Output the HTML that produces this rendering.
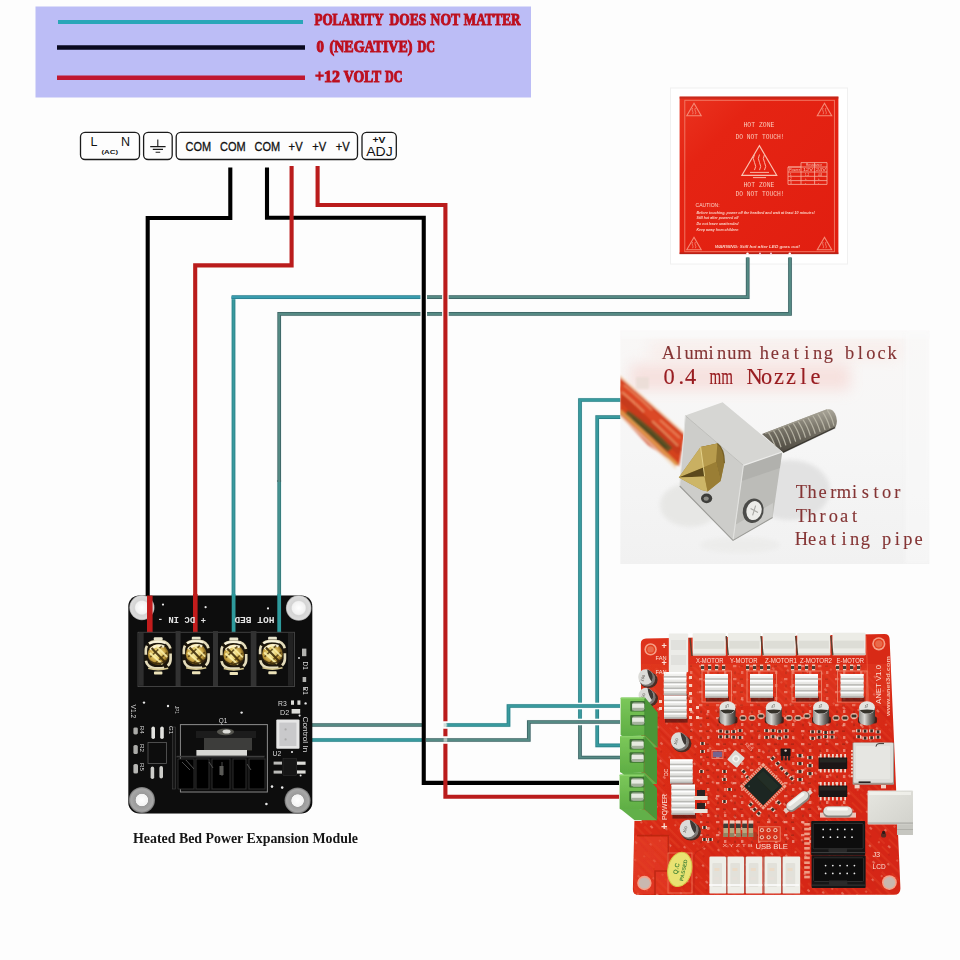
<!DOCTYPE html>
<html lang="en">
<head>
<meta charset="utf-8">
<title>Heated Bed Power Expansion Module wiring</title>
<style>
html,body{margin:0;padding:0;background:#fdfdfd;}
body{width:960px;height:960px;overflow:hidden;}
svg{display:block;}
.sans{font-family:"Liberation Sans",sans-serif;}
.serif{font-family:"Liberation Serif",serif;}
.mono{font-family:"Liberation Mono",monospace;}
</style>
</head>
<body>
<svg width="960" height="960" viewBox="0 0 960 960">
<rect width="960" height="960" fill="#fdfdfd"/>

<g id="bg">
<rect x="670.5" y="88" width="177" height="176" fill="#ffffff" stroke="#f0f0f0" stroke-width="1"/>
</g>
<!-- LEGEND -->
<g id="legend">
<defs><filter id="softL" x="-5%" y="-20%" width="110%" height="140%"><feGaussianBlur stdDeviation="0.35"/></filter></defs>
<rect x="35.5" y="6.5" width="495.5" height="91" fill="#bcbdf6"/>
<path d="M58 22H303" stroke="#2aa6b8" stroke-width="4.2" fill="none"/>
<path d="M57 47.5H305" stroke="#0a0a1e" stroke-width="4.4" fill="none"/>
<path d="M57 77.8H305" stroke="#c01830" stroke-width="4.6" fill="none"/>
<g class="serif" font-weight="bold" fill="#bd1220" stroke="#bd1220" stroke-width="1" font-size="16.2" filter="url(#softL)">
<text y="25"><tspan x="314.4" textLength="69" lengthAdjust="spacingAndGlyphs">POLARITY</tspan><tspan x="389.6" textLength="36.6" lengthAdjust="spacingAndGlyphs">DOES</tspan><tspan x="430.6" textLength="29.4" lengthAdjust="spacingAndGlyphs">NOT</tspan><tspan x="463.8" textLength="56.6" lengthAdjust="spacingAndGlyphs">MATTER</tspan></text>
<text y="52"><tspan x="316.4" textLength="7.4" lengthAdjust="spacingAndGlyphs">0</tspan><tspan x="329.6" textLength="82.8" lengthAdjust="spacingAndGlyphs">(NEGATIVE)</tspan><tspan x="417.6" textLength="17.4" lengthAdjust="spacingAndGlyphs">DC</tspan></text>
<text y="82"><tspan x="315" textLength="25" lengthAdjust="spacingAndGlyphs">+12</tspan><tspan x="343.8" textLength="37.4" lengthAdjust="spacingAndGlyphs">VOLT</tspan><tspan x="385" textLength="17.4" lengthAdjust="spacingAndGlyphs">DC</tspan></text>
</g>
</g>

<!-- PSU TERMINALS -->
<g id="psu" fill="#fdfdfd" stroke="#1a1a1a" stroke-width="1.3">
<rect x="80.5" y="132.3" width="59" height="27.2" rx="4.5"/>
<rect x="143.6" y="132.3" width="28.6" height="27.2" rx="4.5"/>
<rect x="176.2" y="132.3" width="181.3" height="27.2" rx="4.5"/>
<rect x="362" y="132.3" width="34.3" height="27.2" rx="4.5"/>
<path d="M157.8 139.5V146.6M150.2 146.6H165.6M152.8 149.4H163M155.6 152.2H160.2" fill="none" stroke-width="1.1"/>
</g>
<g class="sans" fill="#111" font-size="13.2" stroke="#111" stroke-width="0.3">
<text x="185.5" y="150.6" textLength="25.6" lengthAdjust="spacingAndGlyphs">COM</text>
<text x="220" y="150.6" textLength="25.6" lengthAdjust="spacingAndGlyphs">COM</text>
<text x="254.5" y="150.6" textLength="25.6" lengthAdjust="spacingAndGlyphs">COM</text>
<text x="288.6" y="150.6" textLength="14" lengthAdjust="spacingAndGlyphs">+V</text>
<text x="312.2" y="150.6" textLength="14" lengthAdjust="spacingAndGlyphs">+V</text>
<text x="335.8" y="150.6" textLength="14" lengthAdjust="spacingAndGlyphs">+V</text>
</g>
<g class="sans" fill="#111">
<text x="90.5" y="146.2" font-size="12.5">L</text>
<text x="121" y="146.2" font-size="12.5">N</text>
<text x="101.5" y="153.8" font-size="5.6" font-weight="bold" textLength="16.5" lengthAdjust="spacingAndGlyphs">(AC)</text>
<text x="372.5" y="143" font-size="8.2" font-weight="bold" textLength="13" lengthAdjust="spacingAndGlyphs">+V</text>
<text x="366.2" y="155.6" font-size="12.2" textLength="26.5" lengthAdjust="spacingAndGlyphs">ADJ</text>
</g>

<!-- WIRES -->
<g id="wires" fill="none" stroke-linejoin="miter" stroke-linecap="butt" filter="url(#softW)">
<defs><filter id="softW" x="-2%" y="-2%" width="104%" height="104%"><feGaussianBlur stdDeviation="0.4"/></filter></defs>
<path d="M621 400H580V726" stroke="#b4f2f4" stroke-width="5" opacity="0.22"/>
<path d="M621 400H580V726" stroke="#2a7a80" stroke-width="3.7"/>
<path d="M621 400H580V726" stroke="#379a9e" stroke-width="2.3"/>
<path d="M580 724V757.5H620" stroke="#d8f2f0" stroke-width="5" opacity="0.18"/>
<path d="M580 724V757.5H620" stroke="#3a5f62" stroke-width="3.7"/>
<path d="M580 724V757.5H620" stroke="#548a84" stroke-width="2.2"/>
<path d="M621 417.2H597.2V745.4H620" stroke="#b4f2f4" stroke-width="5" opacity="0.22"/>
<path d="M621 417.2H597.2V745.4H620" stroke="#2a7a80" stroke-width="3.7"/>
<path d="M621 417.2H597.2V745.4H620" stroke="#379a9e" stroke-width="2.3"/>
<path d="M233.5 634V297.2" stroke="#b4f2f4" stroke-width="5" opacity="0.22"/>
<path d="M233.5 634V297.2" stroke="#2a7a80" stroke-width="3.7"/>
<path d="M233.5 634V297.2" stroke="#379a9e" stroke-width="2.3"/>
<path d="M231.6 297.2H421" stroke="#b4f2f4" stroke-width="5" opacity="0.22"/>
<path d="M231.6 297.2H421" stroke="#2d7c8c" stroke-width="3.7"/>
<path d="M231.6 297.2H421" stroke="#389cae" stroke-width="2.3"/>
<path d="M426 297.2H747.7V257.4" stroke="#d8f2f0" stroke-width="5" opacity="0.18"/>
<path d="M426 297.2H747.7V257.4" stroke="#3a5f62" stroke-width="3.7"/>
<path d="M426 297.2H747.7V257.4" stroke="#548a84" stroke-width="2.2"/>
<path d="M279.2 634V480" stroke="#c8f4f4" stroke-width="5" opacity="0.2"/>
<path d="M279.2 634V480" stroke="#327376" stroke-width="3.7"/>
<path d="M279.2 634V480" stroke="#449290" stroke-width="2.3"/>
<path d="M279.2 482V313.9H790V257.4" stroke="#d8f2f0" stroke-width="5" opacity="0.18"/>
<path d="M279.2 482V313.9H790V257.4" stroke="#3a5f62" stroke-width="3.7"/>
<path d="M279.2 482V313.9H790V257.4" stroke="#548a84" stroke-width="2.2"/>
<path d="M576 706H601" stroke="#fdfdfd" stroke-width="6.6"/>
<path d="M576 722H601" stroke="#fdfdfd" stroke-width="6.6"/>
<path d="M310 725H424" stroke="#d8f2f0" stroke-width="5" opacity="0.18"/>
<path d="M310 725H424" stroke="#3a5f62" stroke-width="3.7"/>
<path d="M310 725H424" stroke="#548a84" stroke-width="2.2"/>
<path d="M446 725H508.5V706H620" stroke="#b4f2f4" stroke-width="5" opacity="0.22"/>
<path d="M446 725H508.5V706H620" stroke="#2a7a80" stroke-width="3.7"/>
<path d="M446 725H508.5V706H620" stroke="#379a9e" stroke-width="2.3"/>
<path d="M310 740H424" stroke="#b4f2f4" stroke-width="5" opacity="0.22"/>
<path d="M310 740H424" stroke="#2a7a80" stroke-width="3.7"/>
<path d="M310 740H424" stroke="#379a9e" stroke-width="2.3"/>
<path d="M426 740H528.8V722H620" stroke="#d8f2f0" stroke-width="5" opacity="0.18"/>
<path d="M426 740H528.8V722H620" stroke="#3a5f62" stroke-width="3.7"/>
<path d="M426 740H528.8V722H620" stroke="#548a84" stroke-width="2.2"/>
<path d="M230.3 167.6V218H147.7V598" stroke="#050505" stroke-width="4.1"/>
<path d="M423.75 292.5V319" stroke="#fdfdfd" stroke-width="6.6"/>
<path d="M267 167.6V217.7H423.75V782.9H619" stroke="#050505" stroke-width="4.1"/>
<path d="M291.6 166V265.4H195.2V600" stroke="#ba1e1b" stroke-width="4.1"/>
<path d="M445.4 292.5V319" stroke="#fdfdfd" stroke-width="6.6"/>
<path d="M317.6 166V205H445.4V721.2M445.4 728.8V736.2M445.4 743.8V796.8H619" stroke="#ba1e1b" stroke-width="4.1"/>
<rect x="443.6" y="723.2" width="3.6" height="3.6" fill="#c8d8d4" opacity="0.8"/>
<rect x="443.6" y="738.2" width="3.6" height="3.6" fill="#c8d8d4" opacity="0.8"/>
</g>
<!-- CAPTION -->
<text class="serif" x="133" y="842.6" font-size="15.4" font-weight="bold" fill="#161616" textLength="225" lengthAdjust="spacingAndGlyphs">Heated Bed Power Expansion Module</text>

<g id="hotbed">
<defs>
<linearGradient id="bedG" x1="0" y1="0" x2="1" y2="1"><stop offset="0" stop-color="#ea3420"/><stop offset="0.25" stop-color="#e52413"/><stop offset="1" stop-color="#e11e10"/></linearGradient>
<symbol id="warnTri" viewBox="0 0 16 14" overflow="visible">
<path d="M8 0.8L15.2 13.2H0.8Z" fill="none" stroke="#f58a76" stroke-width="1.1"/>
<path d="M6.6 5.5q-1 1.6 0 3.2t0 3M9.4 5.5q-1 1.6 0 3.2t0 3" fill="none" stroke="#f28a78" stroke-width="0.8"/>
</symbol>
<filter id="soft" x="-5%" y="-5%" width="110%" height="110%"><feGaussianBlur stdDeviation="0.45"/></filter>
<filter id="soft2" x="-5%" y="-5%" width="110%" height="110%"><feGaussianBlur stdDeviation="0.8"/></filter>
<filter id="soft3" x="-10%" y="-10%" width="120%" height="120%"><feGaussianBlur stdDeviation="2"/></filter>
</defs>
<rect x="679.6" y="96.6" width="158.8" height="157.4" fill="url(#bedG)"/>
<rect x="679.6" y="96.6" width="158.8" height="2" fill="#b8281c" opacity="0.7"/>
<rect x="679.6" y="252.4" width="158.8" height="1.8" fill="#a8221a" opacity="0.7"/>
<rect x="684.8" y="100.3" width="149.6" height="151.4" fill="none" stroke="#f27c68" stroke-width="0.9"/>
<use href="#warnTri" x="686" y="102.5" width="16" height="14"/>
<use href="#warnTri" x="816.5" y="102.5" width="16" height="14"/>
<use href="#warnTri" x="686" y="236.5" width="16" height="14"/>
<use href="#warnTri" x="816.5" y="236.5" width="16" height="14"/>
<g class="mono" fill="#fac8b8" font-size="6.6" text-anchor="middle" filter="url(#soft)">
<text x="759" y="126.6" textLength="31" lengthAdjust="spacingAndGlyphs">HOT ZONE</text>
<text x="760" y="139" textLength="49" lengthAdjust="spacingAndGlyphs">DO NOT TOUCH!</text>
<text x="759" y="187.4" textLength="31" lengthAdjust="spacingAndGlyphs">HOT ZONE</text>
<text x="760" y="196.4" textLength="49" lengthAdjust="spacingAndGlyphs">DO NOT TOUCH!</text>
</g>
<g filter="url(#soft)">
<path d="M759.4 145.6L776.8 175.4H741.8Z" fill="none" stroke="#fac0b0" stroke-width="1.1"/>
<path d="M754.5 154.5q-2.4 4 0 8t0 7.6M759.5 154.5q-2.4 4 0 8t0 7.6M764.5 154.5q-2.4 4 0 8t0 7.6" fill="none" stroke="#f8b4a4" stroke-width="1"/>
<path d="M750 172.4H769M753 177.6H766" fill="none" stroke="#f8b4a4" stroke-width="1"/>
</g>
<g fill="none" stroke="#f8b0a0" stroke-width="0.8" filter="url(#soft)">
<path d="M801 162.6H827V184.4H788V167H801ZM788 167H827M788 172H827M788 176.3H827M788 180.6H827M801 167V184.4M814.6 162.6V184.4"/>
</g>
<g class="sans" fill="#f8c4b6" font-size="3" filter="url(#soft)">
<text x="806" y="166.2" textLength="16" lengthAdjust="spacingAndGlyphs">Resistance</text>
<text x="789" y="171.2" textLength="11" lengthAdjust="spacingAndGlyphs">Power</text>
<text x="803" y="171.2" textLength="10" lengthAdjust="spacingAndGlyphs">12V</text>
<text x="816" y="171.2" textLength="10" lengthAdjust="spacingAndGlyphs">24V</text>
<text x="790" y="175.6">1</text><text x="805" y="175.6">1.2</text><text x="818" y="175.6">4.8</text>
<text x="790" y="180">2</text><text x="805" y="180">+</text><text x="818" y="180">+</text>
<text x="790" y="184">3</text><text x="805" y="184">-</text><text x="818" y="184">-</text>
</g>
<g class="sans" fill="#fbd0c4" filter="url(#soft)">
<text x="695.6" y="207.4" font-size="5.6" textLength="24" lengthAdjust="spacingAndGlyphs">CAUTION:</text>
<g font-size="3.6" font-style="italic" font-weight="bold">
<text x="696.4" y="213.6" textLength="118.5" lengthAdjust="spacingAndGlyphs">Before touching, power off the heatbed and wait at least 10 minutes!</text>
<text x="696.4" y="219.4" textLength="42" lengthAdjust="spacingAndGlyphs">Still hot after powered off</text>
<text x="696.4" y="225.2" textLength="42" lengthAdjust="spacingAndGlyphs">Do not leave unattended</text>
<text x="696.4" y="231" textLength="42" lengthAdjust="spacingAndGlyphs">Keep away from children</text>
<text x="715" y="248.2" font-size="4.2" textLength="85" lengthAdjust="spacingAndGlyphs">WARNING: Still hot after LED goes out!</text>
</g>
</g>
<path d="M742 251.6H756M762 251.6H766M772 251.6H786M788 251.6H792" stroke="#f0a090" stroke-width="1.4" fill="none" filter="url(#soft)"/>
<circle cx="747.5" cy="253.6" r="1.2" fill="#fff"/><circle cx="789.8" cy="253.6" r="1.2" fill="#fff"/><circle cx="760" cy="253.4" r="0.9" fill="#fde"/><circle cx="771" cy="253.4" r="0.9" fill="#fde"/>
</g>
<g id="hotend">
<defs>
<linearGradient id="heBg" x1="0" y1="0" x2="0" y2="1">
<stop offset="0" stop-color="#f9f7f6"/><stop offset="0.5" stop-color="#f6f6f6"/><stop offset="1" stop-color="#f1f1f1"/>
</linearGradient>
<linearGradient id="cableG" x1="0" y1="0" x2="1" y2="0" gradientTransform="rotate(-48 .5 .5)">
<stop offset="0" stop-color="#e8a050"/><stop offset="0.25" stop-color="#d2481c"/><stop offset="0.5" stop-color="#8a5a24"/><stop offset="0.75" stop-color="#cf3d18"/><stop offset="1" stop-color="#f0b070"/>
</linearGradient>
<linearGradient id="rodG" x1="0" y1="0" x2="0" y2="1">
<stop offset="0" stop-color="#aaa69a"/><stop offset="0.4" stop-color="#7c786c"/><stop offset="1" stop-color="#4c483f"/>
</linearGradient>
<linearGradient id="brassG" x1="0" y1="0" x2="1" y2="1">
<stop offset="0" stop-color="#d9c070"/><stop offset="0.5" stop-color="#b08c34"/><stop offset="1" stop-color="#6e5418"/>
</linearGradient>
<filter id="soft8" x="-20%" y="-60%" width="140%" height="220%"><feGaussianBlur stdDeviation="7"/></filter>
<clipPath id="heClip"><rect x="620.3" y="330.5" width="309" height="233.5"/></clipPath>
</defs>
<rect x="620.3" y="330.5" width="309" height="233.5" fill="url(#heBg)"/>
<g clip-path="url(#heClip)">
<!-- pink halo behind title -->
<rect x="630" y="364" width="220" height="26" fill="#f6d8d4" opacity="0.7" filter="url(#soft8)"/>
<rect x="650" y="342" width="250" height="18" fill="#f8e6e2" opacity="0.55" filter="url(#soft8)"/>
<rect x="620" y="330" width="310" height="8" fill="#fbfbfb" opacity="0.7" filter="url(#soft2)"/>
<rect x="905" y="330" width="25" height="234" fill="#f9f9f9" opacity="0.6" filter="url(#soft3)"/>
<!-- shadows -->
<ellipse cx="790" cy="490" rx="40" ry="30" fill="#dedede" opacity="0.8" filter="url(#soft3)"/>
<ellipse cx="740" cy="545" rx="40" ry="8" fill="#e9e9e7" opacity="0.6" filter="url(#soft3)"/>
<ellipse cx="690" cy="505" rx="30" ry="22" fill="#e6e6e4" opacity="0.9" filter="url(#soft3)"/>
<!-- cable -->
<rect x="636" y="377" width="13" height="12" fill="#eaddd6" opacity="0.8" filter="url(#soft2)"/>
<g filter="url(#soft2)">
<path d="M619.6 375.6L684.6 433.4L679 466L648 445L619.6 415Z" fill="#d4421e"/>
<path d="M619.6 386L682 442" stroke="#dc4826" stroke-width="9" fill="none"/>
<path d="M621 398L680 452" stroke="#c63a1a" stroke-width="7" fill="none"/>
<path d="M626 413Q648 428 670 450" stroke="#5c5224" stroke-width="6.4" fill="none" opacity="0.92"/>
<path d="M632 418.6Q650 432 666 448" stroke="#3e4a22" stroke-width="2.6" fill="none" opacity="0.8"/>
<path d="M620 411Q646 434 677 465" stroke="#e09a4c" stroke-width="3.6" fill="none" opacity="0.95"/>
<path d="M620 415.4Q646 439 676 468.6" stroke="#f3dcc0" stroke-width="2" fill="none" opacity="0.8"/>
<path d="M619.6 376L684.6 433.6" stroke="#f4d8b8" stroke-width="1.8" fill="none" opacity="0.95"/>
<path d="M624 385Q640 398 652 410M660 420Q670 429 680 438" stroke="#f0a070" stroke-width="1.6" fill="none" opacity="0.8"/>
<path d="M622 392Q634 402 644 412M652 421Q664 432 678 446" stroke="#f6c890" stroke-width="1.2" fill="none" opacity="0.7"/>
</g>
<!-- threaded rod -->
<g filter="url(#soft)">
<path d="M762 434L826.5 409.6Q832 407.8 835 413.5Q838.6 421 835.4 427.4L783 452.6Z" fill="url(#rodG)"/>
<g stroke="#bdb9aa" stroke-width="1.25" fill="none" opacity="0.9">
<path d="M768.5 432.6q4.6 6.4 7.6 16.6M773.4 430.7q4.6 6.4 7.6 16.6M778.3 428.8q4.6 6.4 7.6 16.6M783.2 426.9q4.6 6.4 7.6 16.6M788.1 425q4.6 6.4 7.6 16.6M793 423.1q4.6 6.4 7.6 16.4M797.9 421.2q4.6 6.4 7.6 16.4M802.8 419.3q4.6 6.4 7.6 16.4M807.7 417.4q4.6 6.4 7.6 16.4M812.6 415.5q4.6 6.4 7.6 16.4M817.5 413.6q4.6 6.4 7.6 16.4M822.4 411.7q4.6 6.4 7.6 16.4M827.3 410.2q4.6 6.4 6.6 15.4"/>
</g>
<path d="M765 433.6L827 410" stroke="#a09c8e" stroke-width="1.4" fill="none" opacity="0.8"/>
<path d="M783 452.4L835 427.6" stroke="#2a2822" stroke-width="1.6" fill="none" opacity="0.8"/>
</g>
<!-- block -->
<g filter="url(#soft)">
<path d="M685.3 415.6L722.6 402.2L782.2 452L743.4 465.4Z" fill="#d6d6d3"/>
<path d="M685.3 415.6L743.4 465.4L733 540.4L679.7 486Z" fill="#cdcdca"/>
<path d="M743.4 465.4L782.2 452L772.6 517.6L733 540.4Z" fill="#bcbcb8"/>
<path d="M743.4 465.4L782.2 452L780 468L741.6 481Z" fill="#a8a8a4" opacity="0.55"/>
<path d="M735 525L773 503L772.6 517.6L733 540.4Z" fill="#d2d2ce" opacity="0.7"/>
<path d="M685.3 415.6L743.4 465.4" fill="none" stroke="#b4b4b0" stroke-width="0.9" opacity="0.8"/>
<path d="M743.4 465.4L782.2 452" fill="none" stroke="#ececea" stroke-width="1.3"/>
<path d="M743.4 465.4L733 540.4" fill="none" stroke="#e2e2e0" stroke-width="1.1"/>
<path d="M679.7 486L733 540.4L772.6 517.6" fill="none" stroke="#9c9c98" stroke-width="1.1"/>
<path d="M685.3 415.6L679.7 486" fill="none" stroke="#e4e4e2" stroke-width="1"/>
<!-- round screw -->
<ellipse cx="753.2" cy="510.8" rx="10.4" ry="12.4" fill="#4c4c48" transform="rotate(14 753.2 510.8)"/>
<ellipse cx="754" cy="510.6" rx="7.6" ry="9.6" fill="#ecece9" transform="rotate(14 754 510.6)"/>
<path d="M750.6 508.4L758 512.6M755.6 505.6L752.6 515.4" stroke="#a8a8a4" stroke-width="1.1" fill="none"/>
<!-- set screw -->
<ellipse cx="706.6" cy="498.4" rx="5.6" ry="4.8" fill="#3e3e3a"/>
<ellipse cx="706.2" cy="498.6" rx="2.6" ry="2.2" fill="#8c8c86"/>
<!-- nozzle -->
<path d="M678.8 477.6L700.6 447L717.4 443.6Q724.6 449 724.4 463L720.6 481L707.6 491.6L701.6 490Z" fill="#a88a3a"/>
<path d="M700.6 447L717.4 443.6Q724.6 449 724.4 463L720.6 481L716 462Z" fill="#8f7430"/>
<path d="M700.6 447L717.4 443.6L716 462L703.4 467.4Z" fill="#b89c4e"/>
<path d="M678.8 477.6L700.6 447L703.4 467.4Z" fill="#c9b062"/>
<path d="M678.8 477.6L703.4 467.4L704.6 476.4Z" fill="#5c4a1a"/>
<path d="M678.8 477.6L704.6 476.4L707.6 491.6L701.6 490Z" fill="#cdb668"/>
<path d="M703.4 467.4L716 462L720.6 481L707.6 491.6L704.6 476.4Z" fill="#9a7e34"/>
<path d="M700.6 447L703.4 467.4L704.6 476.4" stroke="#e8d690" stroke-width="1" fill="none" opacity="0.9"/>
<path d="M717.4 443.6Q724.6 449 724.4 463" stroke="#6a5620" stroke-width="1.2" fill="none" opacity="0.8"/>
</g>
<!-- text -->
<g class="serif" fill="#843434" stroke="#843434" stroke-width="0.12" text-anchor="middle" filter="url(#soft)">
<text y="358.6" font-size="18.4" x="668.33 678.99 689.05 701.11 710.97 721.63 731.89 744.35 753.61 764.27 774.93 785.59 796.25 806.91 817.57 828.23 838.89 849.55 860.21 870.87 881.53 892.19">Aluminum heating block</text>
<text y="384.0" font-size="22.4" fill="#981c20" stroke="#981c20" stroke-width="0.15"><tspan x="669.10 681.30 693.50">0.4</tspan> <tspan x="724.00" textLength="23.4" lengthAdjust="spacingAndGlyphs">mm</tspan> <tspan x="754.50 766.70 778.90 791.10 803.30 815.50">Nozzle</tspan></text>
<text y="497.8" font-size="18.4" x="801.33 811.99 822.65 833.31 843.97 854.63 865.29 875.95 886.61 897.27">Thermistor</text>
<text y="521.6" font-size="18.4" x="801.33 811.99 822.65 833.31 843.97 854.63">Throat</text>
<text y="545.4" font-size="18.4" x="801.33 811.99 822.65 833.31 843.97 854.63 865.29 875.95 886.61 897.27 907.93 918.59">Heating pipe</text>
</g>
</g>
</g>
<g id="mosfet">
<defs>
<radialGradient id="holeG" cx="0.5" cy="0.5" r="0.5">
<stop offset="0" stop-color="#ffffff"/><stop offset="0.45" stop-color="#f4f4f4"/><stop offset="0.5" stop-color="#9a9a9a"/><stop offset="0.85" stop-color="#a8a8a8"/><stop offset="1" stop-color="#6e6e6e"/>
</radialGradient>
<radialGradient id="holeG2" cx="0.5" cy="0.5" r="0.5">
<stop offset="0" stop-color="#ffffff"/><stop offset="0.5" stop-color="#f2f2f2"/><stop offset="0.6" stop-color="#d4d4d4"/><stop offset="0.9" stop-color="#dcdcdc"/><stop offset="1" stop-color="#9a9a9a"/>
</radialGradient>
<radialGradient id="screwG" cx="0.45" cy="0.45" r="0.55">
<stop offset="0" stop-color="#fff8c8"/><stop offset="0.35" stop-color="#ecd679"/><stop offset="0.72" stop-color="#c29c3e"/><stop offset="1" stop-color="#644c18"/>
</radialGradient>
<symbol id="tscrew" viewBox="-16 -18 32 40" overflow="visible">
<rect x="-4.4" y="-17.4" width="8.8" height="5" rx="1" fill="#e8e4cc"/>
<rect x="-13.8" y="-14.6" width="27.6" height="29.6" rx="10" fill="#1e180a"/>
<rect x="-12.4" y="-13.2" width="24.8" height="26.8" rx="9" fill="none" stroke="#e4dcbc" stroke-width="2.6" stroke-dasharray="19 5 13 4 22 6 9 3"/>
<path d="M-9 -11Q-2 -14.6 7 -11.6" stroke="#fbf6e0" stroke-width="2" fill="none" opacity="0.9"/>
<circle r="10.4" fill="url(#screwG)"/>
<path d="M-8 -5Q-2 -11 6 -8" stroke="#fffbe0" stroke-width="2.6" fill="none" opacity="0.9"/>
<path d="M-6.6 -6.6L7 7.6" stroke="#3e2c08" stroke-width="2.2" fill="none" opacity="0.9"/>
<path d="M-8 2.6L3.6 -8.6" stroke="#4a360c" stroke-width="1.6" fill="none" opacity="0.8"/>
<path d="M-2.6 8.6L8.6 -2" stroke="#4a360c" stroke-width="1.6" fill="none" opacity="0.75"/>
<path d="M-8.4 -1.6L4.4 9.6" stroke="#fbf0a8" stroke-width="2" fill="none" opacity="0.9"/>
<path d="M-2 -8.6L9 2.4" stroke="#fbf0a8" stroke-width="1.8" fill="none" opacity="0.85"/>
<path d="M-9 6Q0 12.6 9 5.4" stroke="#33240a" stroke-width="1.5" fill="none" opacity="0.8"/>
<path d="M-10 13.6Q0 16.4 10 13.6" stroke="#d6c890" stroke-width="1.6" fill="none"/>
<rect x="-4.2" y="17" width="8.4" height="3" rx="0.8" fill="#ece2b8"/>
</symbol>
</defs>
<g filter="url(#soft)">
<rect x="128.3" y="595.4" width="184" height="218" rx="11" fill="#0a0a0a"/>
<!-- mounting holes -->
<circle cx="141.9" cy="607.6" r="12.6" fill="url(#holeG2)"/>
<circle cx="298.7" cy="608" r="12.8" fill="url(#holeG2)"/>
<circle cx="141.9" cy="800" r="13.1" fill="url(#holeG)"/>
<circle cx="297.6" cy="800.6" r="13.1" fill="url(#holeG)"/>
<!-- wire stubs on board -->
<path d="M149.8 595.6V635" stroke="#c21a1a" stroke-width="5.6" fill="none"/>
<path d="M195.3 594V634.5" stroke="#c21a1a" stroke-width="4.6" fill="none"/>
<path d="M233.6 594V633" stroke="#2f9a9c" stroke-width="3.8" fill="none"/>
<path d="M279.2 594V633" stroke="#2f9a9c" stroke-width="3.8" fill="none"/>
<!-- terminal block -->
<rect x="138" y="632.2" width="156.4" height="54.4" fill="#101010" stroke="#4a4a4a" stroke-width="0.9"/>
<rect x="139" y="633" width="4.6" height="52.8" fill="#2e2e2e"/>
<rect x="175.6" y="631" width="5" height="55" fill="#333"/>
<rect x="213" y="631" width="5" height="55" fill="#333"/>
<rect x="250.8" y="631" width="5.6" height="55" fill="#333"/>
<rect x="288" y="633" width="5" height="52.8" fill="#222"/>
<use href="#tscrew" x="142.2" y="636.6" width="32" height="40"/>
<use href="#tscrew" x="180.2" y="636.2" width="32" height="40"/>
<use href="#tscrew" x="217.8" y="637.0" width="32" height="40"/>
<use href="#tscrew" x="256.5" y="636.2" width="32" height="40"/>
<!-- Q1 area -->
<rect x="180.4" y="724.6" width="87" height="67.4" fill="#0e0e0e" stroke="#8a8a8a" stroke-width="1"/>
<rect x="172.5" y="727" width="3" height="62" fill="#161616" stroke="#444" stroke-width="0.6"/>
<rect x="204" y="737" width="48" height="13.4" fill="#3c3c3a"/>
<rect x="196" y="731" width="60" height="7" fill="#1e1e1e"/>
<ellipse cx="225.5" cy="731.8" rx="8.6" ry="3.4" fill="#55554f"/>
<ellipse cx="226.6" cy="731.4" rx="4" ry="2" fill="#dcdcd8"/>
<rect x="196.4" y="750" width="50.6" height="5.8" fill="#d8d8d4"/>
<rect x="176.5" y="755.8" width="88" height="1.6" fill="#3c3c3c"/>
<g fill="#050505" stroke="#343434" stroke-width="0.8">
<rect x="178" y="759" width="16" height="30"/><rect x="196" y="759" width="13" height="30"/><rect x="212" y="759" width="18" height="30"/><rect x="233" y="759" width="13" height="30"/><rect x="249" y="759" width="16" height="30"/>
</g>
<path d="M182 762l8 8M186 760l8 9M209 762l4 6M222 762v14M247 764l4 6" stroke="#555" stroke-width="0.9" fill="none"/>
<rect x="219.5" y="766" width="4" height="9" fill="#5a5a56"/>
<!-- small chip left -->
<rect x="148" y="742.6" width="18.4" height="21" fill="#0c0c0c" stroke="#5e5e5e" stroke-width="0.8"/>
<g fill="#e2e2de">
<rect x="151.4" y="726.4" width="3.6" height="12.6" rx="1.8"/><rect x="160.2" y="726.4" width="3.6" height="12.6" rx="1.8"/>
<rect x="150.6" y="766.6" width="3.6" height="12.4" rx="1.8" opacity="0.9"/><rect x="159.4" y="766" width="3.6" height="12.6" rx="1.8" opacity="0.9"/>
<rect x="133.4" y="727.4" width="4.4" height="7" rx="1.4" opacity="0.75"/>
<rect x="133.4" y="745" width="4.4" height="9" rx="1.6" opacity="0.75"/>
<rect x="133.4" y="764" width="4.6" height="9.6" rx="1.6" opacity="0.8"/>
</g>
<!-- connector -->
<rect x="276.3" y="719.4" width="23.2" height="29.4" rx="1" fill="#e6e6e6"/>
<rect x="279.4" y="722.6" width="17" height="23.4" fill="#c9c9cb"/>
<circle cx="285.6" cy="729.4" r="1.1" fill="#aaa"/><circle cx="285.6" cy="739.4" r="1.1" fill="#aaa"/>
<!-- U2 -->
<rect x="283" y="758.4" width="13.4" height="17" fill="#131313" stroke="#333" stroke-width="0.6"/>
<g fill="#dcdcd8">
<rect x="273.6" y="761.6" width="8.4" height="3" opacity="0.85"/><rect x="273.6" y="770.6" width="8.4" height="3" opacity="0.85"/>
<rect x="297" y="761.6" width="8.6" height="3.2"/><rect x="297" y="770.4" width="8.6" height="3.2"/>
<rect x="291.6" y="709" width="8.6" height="4.6"/>
<rect x="291" y="700.4" width="3" height="4.4"/><rect x="297.4" y="700.4" width="3" height="4.4"/>
<rect x="302" y="648.6" width="4.4" height="7.6" opacity="0.8"/>
<rect x="302.6" y="677" width="3.6" height="5" opacity="0.8"/>
</g>
<!-- vias -->
<g fill="#e8e8e8">
<circle cx="163" cy="604.6" r="1.1"/><circle cx="205.6" cy="607.2" r="1.1"/><circle cx="268" cy="608.4" r="1.1"/>
<circle cx="144" cy="702.6" r="1.2"/><circle cx="168" cy="706" r="1.2"/><circle cx="241.6" cy="712.6" r="1.2"/>
<circle cx="305.6" cy="703.4" r="1.2"/><circle cx="299.6" cy="715.6" r="1.1"/><circle cx="292" cy="752" r="1.1"/>
<circle cx="272" cy="786.6" r="1.3"/><circle cx="282.2" cy="787.6" r="1.3"/><circle cx="266.4" cy="804" r="1.3"/><circle cx="300.6" cy="775.6" r="1"/>
<circle cx="299" cy="658" r="0.9"/><circle cx="304" cy="689" r="0.9"/>
</g>
<!-- silkscreen text -->
<g class="mono" fill="#e4e4e4" font-size="9" font-weight="bold">
<text transform="rotate(180 181.8 620)" x="157.6" y="623.2" textLength="48.4" lengthAdjust="spacingAndGlyphs">+ DC IN -</text>
<text transform="rotate(180 254.4 620)" x="234.4" y="623.2" textLength="40" lengthAdjust="spacingAndGlyphs">HOT BED</text>
</g>
<g class="sans" fill="#dcdcdc" font-size="6.4">
<text x="278" y="705.6" font-size="6.8">R3</text>
<text x="280" y="715" font-size="7.2">D2</text>
<text x="272.6" y="756" font-size="6.8">U2</text>
<text x="218.8" y="723" font-size="6.4">Q1</text>
<text transform="translate(174.6 706) rotate(90)" font-size="4.6">JP1</text>
<text transform="translate(130.6 704.6) rotate(90)" font-size="6.6">V1.2</text>
<text transform="translate(140.4 725.8) rotate(90)" font-size="6.2">R4</text>
<text transform="translate(140.4 744) rotate(90)" font-size="6.2">R2</text>
<text transform="translate(140.4 763) rotate(90)" font-size="6.2">R5</text>
<text transform="translate(169 726) rotate(90)" font-size="6.2">G1</text>
<text transform="translate(302.6 661.6) rotate(90)" font-size="6.4">D1</text>
<text transform="translate(302.6 686.6) rotate(90)" font-size="6.4">R1</text>
<text transform="translate(303.4 716.4) rotate(90)" font-size="6.6" textLength="36" lengthAdjust="spacingAndGlyphs">Control In</text>
</g>
</g>
</g>
<g id="anet">
<defs>
<linearGradient id="pcbG" x1="0" y1="0" x2="1" y2="1">
<stop offset="0" stop-color="#de321c"/><stop offset="0.5" stop-color="#d82a17"/><stop offset="1" stop-color="#d52615"/>
</linearGradient>
<linearGradient id="hsG" x1="0" y1="0" x2="0" y2="1">
<stop offset="0" stop-color="#f4f4f2"/><stop offset="1" stop-color="#d6d6d2"/>
</linearGradient>
<linearGradient id="capBody" x1="0" y1="0" x2="1" y2="0">
<stop offset="0" stop-color="#8e8e8a"/><stop offset="0.35" stop-color="#d8d8d4"/><stop offset="0.7" stop-color="#77736e"/><stop offset="1" stop-color="#3a3632"/>
</linearGradient>
<linearGradient id="greenF" x1="0" y1="0" x2="0" y2="1">
<stop offset="0" stop-color="#7cc85a"/><stop offset="1" stop-color="#5fae44"/>
</linearGradient>
<linearGradient id="usbG" x1="0" y1="0" x2="1" y2="1">
<stop offset="0" stop-color="#e6e6e0"/><stop offset="1" stop-color="#d2d2cc"/>
</linearGradient>
<pattern id="pcbTex" width="26" height="22" patternUnits="userSpaceOnUse" patternTransform="rotate(45)">
<path d="M0 3H26M0 9H14M18 15H26M0 19H10" stroke="#ef5a3c" stroke-width="1" fill="none" opacity="0.7"/>
<path d="M0 6H26M6 12H20" stroke="#b81e0e" stroke-width="0.9" fill="none" opacity="0.6"/>
<rect x="4" y="13" width="3" height="2" fill="#f7c0ae" opacity="0.8"/><rect x="16" y="4" width="2.4" height="2" fill="#f7c0ae" opacity="0.8"/>
<circle cx="21" cy="18" r="1.1" fill="#f4a890" opacity="0.8"/><circle cx="11" cy="20" r="0.9" fill="#a81a0c" opacity="0.7"/>
</pattern>
<pattern id="pcbTex2" width="17" height="13" patternUnits="userSpaceOnUse">
<rect x="2" y="2" width="3.4" height="2.2" fill="#f6c6b6" opacity="0.75"/><rect x="10" y="8" width="2.4" height="3" fill="#f6c6b6" opacity="0.7"/>
<rect x="9" y="2.4" width="3" height="1.6" fill="#7a2014" opacity="0.55"/><rect x="3" y="8.6" width="2" height="2.6" fill="#8a2418" opacity="0.5"/>
</pattern>
</defs>
<g filter="url(#soft)">
<path d="M646 638.6L884.5 634Q889.4 634 889.6 639L900.4 888Q900.6 894.6 894 894.7L639 895Q632.8 895 632.9 889L634.4 821H641.6L640.8 644Q640.8 638.8 646 638.6Z" fill="url(#pcbG)"/>
<path d="M646 668L888 664L900 888Q900.6 894.6 894 894.7L639 895Q632.8 895 632.9 889L634.4 821H641.6Z" fill="url(#pcbTex)" opacity="0.55"/>
<path d="M690 662H868V742H852V845H700V742H690Z" fill="url(#pcbTex2)" opacity="0.8"/>
<rect x="641.0" y="664.0" width="250.0" height="42.0" fill="#e8452a" opacity="0.30" />
<rect x="634.0" y="836.0" width="36.0" height="58.0" fill="#e64026" opacity="0.60" />
<path d="M637 835.6H668.4V871H655V895" fill="none" stroke="#b8240f" stroke-width="1.6" opacity="0.8"/>
<path d="M694 895V858Q694 852 700 850L706 846" fill="none" stroke="#c02810" stroke-width="1.2" opacity="0.7"/>
<rect x="668.0" y="853.0" width="24.0" height="40.0" fill="none" stroke="#f07a5c" stroke-width="0.8"/>
<path d="M866 636L870 730" stroke="#ee5a3c" stroke-width="1" fill="none" opacity="0.8"/>
<circle cx="650.6" cy="649.4" r="6.2" fill="#f6a088" />
<circle cx="650.6" cy="649.4" r="4.6" fill="#e4401f" />
<circle cx="650.6" cy="649.4" r="3.2" fill="#e86a4c" />
<circle cx="878.8" cy="643.8" r="6.6" fill="#f6a088" />
<circle cx="878.8" cy="643.8" r="5.0" fill="#e4401f" />
<circle cx="878.8" cy="643.8" r="3.6" fill="#e86a4c" />
<circle cx="644.4" cy="883.0" r="7.2" fill="#f6a088" />
<circle cx="644.4" cy="883.0" r="5.6" fill="#c9b8b0" />
<circle cx="889.4" cy="882.6" r="7.4" fill="#f6a088" />
<circle cx="889.4" cy="882.6" r="5.8" fill="#c9b8b0" />
<rect x="701.0" y="664.5" width="3.2" height="6.0" fill="#f2c8b8"/><rect x="701.0" y="666.0" width="3.2" height="3.0" fill="#4a3a30"/>
<rect x="708.0" y="664.5" width="3.2" height="6.0" fill="#f2c8b8"/><rect x="708.0" y="666.0" width="3.2" height="3.0" fill="#4a3a30"/>
<rect x="715.0" y="664.5" width="3.2" height="6.0" fill="#f2c8b8"/><rect x="715.0" y="666.0" width="3.2" height="3.0" fill="#4a3a30"/>
<rect x="722.0" y="664.5" width="3.2" height="6.0" fill="#f2c8b8"/><rect x="722.0" y="666.0" width="3.2" height="3.0" fill="#4a3a30"/>
<rect x="746.0" y="664.5" width="3.2" height="6.0" fill="#f2c8b8"/><rect x="746.0" y="666.0" width="3.2" height="3.0" fill="#4a3a30"/>
<rect x="753.0" y="664.5" width="3.2" height="6.0" fill="#f2c8b8"/><rect x="753.0" y="666.0" width="3.2" height="3.0" fill="#4a3a30"/>
<rect x="760.0" y="664.5" width="3.2" height="6.0" fill="#f2c8b8"/><rect x="760.0" y="666.0" width="3.2" height="3.0" fill="#4a3a30"/>
<rect x="767.0" y="664.5" width="3.2" height="6.0" fill="#f2c8b8"/><rect x="767.0" y="666.0" width="3.2" height="3.0" fill="#4a3a30"/>
<rect x="791.0" y="664.5" width="3.2" height="6.0" fill="#f2c8b8"/><rect x="791.0" y="666.0" width="3.2" height="3.0" fill="#4a3a30"/>
<rect x="798.0" y="664.5" width="3.2" height="6.0" fill="#f2c8b8"/><rect x="798.0" y="666.0" width="3.2" height="3.0" fill="#4a3a30"/>
<rect x="805.0" y="664.5" width="3.2" height="6.0" fill="#f2c8b8"/><rect x="805.0" y="666.0" width="3.2" height="3.0" fill="#4a3a30"/>
<rect x="812.0" y="664.5" width="3.2" height="6.0" fill="#f2c8b8"/><rect x="812.0" y="666.0" width="3.2" height="3.0" fill="#4a3a30"/>
<rect x="836.0" y="664.5" width="3.2" height="6.0" fill="#f2c8b8"/><rect x="836.0" y="666.0" width="3.2" height="3.0" fill="#4a3a30"/>
<rect x="843.0" y="664.5" width="3.2" height="6.0" fill="#f2c8b8"/><rect x="843.0" y="666.0" width="3.2" height="3.0" fill="#4a3a30"/>
<rect x="850.0" y="664.5" width="3.2" height="6.0" fill="#f2c8b8"/><rect x="850.0" y="666.0" width="3.2" height="3.0" fill="#4a3a30"/>
<rect x="857.0" y="664.5" width="3.2" height="6.0" fill="#f2c8b8"/><rect x="857.0" y="666.0" width="3.2" height="3.0" fill="#4a3a30"/>
<ellipse cx="743.0" cy="718.0" rx="3.6" ry="3.0" fill="#f0b8a4" />
<rect x="740.6" y="716.6" width="4.8" height="2.8" fill="#3a3028" />
<ellipse cx="752.0" cy="718.0" rx="3.6" ry="3.0" fill="#f0b8a4" />
<rect x="749.6" y="716.6" width="4.8" height="2.8" fill="#3a3028" />
<ellipse cx="761.0" cy="716.0" rx="3.6" ry="3.0" fill="#f0b8a4" />
<rect x="758.6" y="714.6" width="4.8" height="2.8" fill="#3a3028" />
<ellipse cx="789.0" cy="718.0" rx="3.6" ry="3.0" fill="#f0b8a4" />
<rect x="786.6" y="716.6" width="4.8" height="2.8" fill="#3a3028" />
<ellipse cx="798.0" cy="718.0" rx="3.6" ry="3.0" fill="#f0b8a4" />
<rect x="795.6" y="716.6" width="4.8" height="2.8" fill="#3a3028" />
<ellipse cx="807.0" cy="716.0" rx="3.6" ry="3.0" fill="#f0b8a4" />
<rect x="804.6" y="714.6" width="4.8" height="2.8" fill="#3a3028" />
<ellipse cx="836.0" cy="718.0" rx="3.6" ry="3.0" fill="#f0b8a4" />
<rect x="833.6" y="716.6" width="4.8" height="2.8" fill="#3a3028" />
<ellipse cx="845.0" cy="718.0" rx="3.6" ry="3.0" fill="#f0b8a4" />
<rect x="842.6" y="716.6" width="4.8" height="2.8" fill="#3a3028" />
<ellipse cx="854.0" cy="716.0" rx="3.6" ry="3.0" fill="#f0b8a4" />
<rect x="851.6" y="714.6" width="4.8" height="2.8" fill="#3a3028" />
<g><rect x="718.0" y="729.6" width="5.2" height="3.0" fill="#f2c8b8"/><rect x="719.3" y="729.6" width="2.6" height="3.0" fill="#3a2a22"/></g>
<g><rect x="718.0" y="735.3" width="5.2" height="3.0" fill="#f2c8b8"/><rect x="719.3" y="735.3" width="2.6" height="3.0" fill="#3a2a22"/></g>
<g><rect x="724.5" y="730.3" width="5.2" height="3.0" fill="#f2c8b8"/><rect x="725.8" y="730.3" width="2.6" height="3.0" fill="#3a2a22"/></g>
<g><rect x="724.5" y="735.1" width="5.2" height="3.0" fill="#f2c8b8"/><rect x="725.8" y="735.1" width="2.6" height="3.0" fill="#3a2a22"/></g>
<g><rect x="731.0" y="730.1" width="5.2" height="3.0" fill="#f2c8b8"/><rect x="732.3" y="730.1" width="2.6" height="3.0" fill="#3a2a22"/></g>
<g><rect x="731.0" y="735.7" width="5.2" height="3.0" fill="#f2c8b8"/><rect x="732.3" y="735.7" width="2.6" height="3.0" fill="#3a2a22"/></g>
<g><rect x="737.5" y="729.1" width="5.2" height="3.0" fill="#f2c8b8"/><rect x="738.8" y="729.1" width="2.6" height="3.0" fill="#3a2a22"/></g>
<g><rect x="737.5" y="736.0" width="5.2" height="3.0" fill="#f2c8b8"/><rect x="738.8" y="736.0" width="2.6" height="3.0" fill="#3a2a22"/></g>
<g><rect x="764.0" y="729.1" width="5.2" height="3.0" fill="#f2c8b8"/><rect x="765.3" y="729.1" width="2.6" height="3.0" fill="#3a2a22"/></g>
<g><rect x="764.0" y="735.9" width="5.2" height="3.0" fill="#f2c8b8"/><rect x="765.3" y="735.9" width="2.6" height="3.0" fill="#3a2a22"/></g>
<g><rect x="770.5" y="729.1" width="5.2" height="3.0" fill="#f2c8b8"/><rect x="771.8" y="729.1" width="2.6" height="3.0" fill="#3a2a22"/></g>
<g><rect x="770.5" y="735.2" width="5.2" height="3.0" fill="#f2c8b8"/><rect x="771.8" y="735.2" width="2.6" height="3.0" fill="#3a2a22"/></g>
<g><rect x="777.0" y="729.8" width="5.2" height="3.0" fill="#f2c8b8"/><rect x="778.3" y="729.8" width="2.6" height="3.0" fill="#3a2a22"/></g>
<g><rect x="777.0" y="736.7" width="5.2" height="3.0" fill="#f2c8b8"/><rect x="778.3" y="736.7" width="2.6" height="3.0" fill="#3a2a22"/></g>
<g><rect x="783.5" y="729.2" width="5.2" height="3.0" fill="#f2c8b8"/><rect x="784.8" y="729.2" width="2.6" height="3.0" fill="#3a2a22"/></g>
<g><rect x="783.5" y="735.4" width="5.2" height="3.0" fill="#f2c8b8"/><rect x="784.8" y="735.4" width="2.6" height="3.0" fill="#3a2a22"/></g>
<g><rect x="810.0" y="730.3" width="5.2" height="3.0" fill="#f2c8b8"/><rect x="811.3" y="730.3" width="2.6" height="3.0" fill="#3a2a22"/></g>
<g><rect x="810.0" y="736.9" width="5.2" height="3.0" fill="#f2c8b8"/><rect x="811.3" y="736.9" width="2.6" height="3.0" fill="#3a2a22"/></g>
<g><rect x="816.5" y="730.2" width="5.2" height="3.0" fill="#f2c8b8"/><rect x="817.8" y="730.2" width="2.6" height="3.0" fill="#3a2a22"/></g>
<g><rect x="816.5" y="735.8" width="5.2" height="3.0" fill="#f2c8b8"/><rect x="817.8" y="735.8" width="2.6" height="3.0" fill="#3a2a22"/></g>
<g><rect x="823.0" y="731.0" width="5.2" height="3.0" fill="#f2c8b8"/><rect x="824.3" y="731.0" width="2.6" height="3.0" fill="#3a2a22"/></g>
<g><rect x="823.0" y="735.1" width="5.2" height="3.0" fill="#f2c8b8"/><rect x="824.3" y="735.1" width="2.6" height="3.0" fill="#3a2a22"/></g>
<g><rect x="829.5" y="730.7" width="5.2" height="3.0" fill="#f2c8b8"/><rect x="830.8" y="730.7" width="2.6" height="3.0" fill="#3a2a22"/></g>
<g><rect x="829.5" y="735.6" width="5.2" height="3.0" fill="#f2c8b8"/><rect x="830.8" y="735.6" width="2.6" height="3.0" fill="#3a2a22"/></g>
<g><rect x="856.0" y="729.3" width="5.2" height="3.0" fill="#f2c8b8"/><rect x="857.3" y="729.3" width="2.6" height="3.0" fill="#3a2a22"/></g>
<g><rect x="856.0" y="735.2" width="5.2" height="3.0" fill="#f2c8b8"/><rect x="857.3" y="735.2" width="2.6" height="3.0" fill="#3a2a22"/></g>
<g><rect x="862.5" y="729.6" width="5.2" height="3.0" fill="#f2c8b8"/><rect x="863.8" y="729.6" width="2.6" height="3.0" fill="#3a2a22"/></g>
<g><rect x="862.5" y="736.6" width="5.2" height="3.0" fill="#f2c8b8"/><rect x="863.8" y="736.6" width="2.6" height="3.0" fill="#3a2a22"/></g>
<g><rect x="869.0" y="729.4" width="5.2" height="3.0" fill="#f2c8b8"/><rect x="870.3" y="729.4" width="2.6" height="3.0" fill="#3a2a22"/></g>
<g><rect x="869.0" y="736.2" width="5.2" height="3.0" fill="#f2c8b8"/><rect x="870.3" y="736.2" width="2.6" height="3.0" fill="#3a2a22"/></g>
<g><rect x="875.5" y="730.3" width="5.2" height="3.0" fill="#f2c8b8"/><rect x="876.8" y="730.3" width="2.6" height="3.0" fill="#3a2a22"/></g>
<g><rect x="875.5" y="735.7" width="5.2" height="3.0" fill="#f2c8b8"/><rect x="876.8" y="735.7" width="2.6" height="3.0" fill="#3a2a22"/></g>
<g transform="rotate(45 743.7 771.5)"><rect x="741.0" y="770.0" width="5.4" height="3.0" fill="#f2c8b8"/><rect x="742.4" y="770.0" width="2.7" height="3.0" fill="#3a2a22"/></g>
<g transform="rotate(45 747.7 777.5)"><rect x="745.0" y="776.0" width="5.4" height="3.0" fill="#f2c8b8"/><rect x="746.4" y="776.0" width="2.7" height="3.0" fill="#3a2a22"/></g>
<g transform="rotate(-45 772.7 758.5)"><rect x="770.0" y="757.0" width="5.4" height="3.0" fill="#f2c8b8"/><rect x="771.4" y="757.0" width="2.7" height="3.0" fill="#3a2a22"/></g>
<g transform="rotate(-45 777.7 763.5)"><rect x="775.0" y="762.0" width="5.4" height="3.0" fill="#f2c8b8"/><rect x="776.4" y="762.0" width="2.7" height="3.0" fill="#3a2a22"/></g>
<g transform="rotate(45 781.7 768.5)"><rect x="779.0" y="767.0" width="5.4" height="3.0" fill="#f2c8b8"/><rect x="780.4" y="767.0" width="2.7" height="3.0" fill="#3a2a22"/></g>
<g transform="rotate(45 786.7 773.5)"><rect x="784.0" y="772.0" width="5.4" height="3.0" fill="#f2c8b8"/><rect x="785.4" y="772.0" width="2.7" height="3.0" fill="#3a2a22"/></g>
<g transform="rotate(45 791.7 778.5)"><rect x="789.0" y="777.0" width="5.4" height="3.0" fill="#f2c8b8"/><rect x="790.4" y="777.0" width="2.7" height="3.0" fill="#3a2a22"/></g>
<g transform="rotate(-45 750.7 804.5)"><rect x="748.0" y="803.0" width="5.4" height="3.0" fill="#f2c8b8"/><rect x="749.4" y="803.0" width="2.7" height="3.0" fill="#3a2a22"/></g>
<g transform="rotate(-45 754.7 809.5)"><rect x="752.0" y="808.0" width="5.4" height="3.0" fill="#f2c8b8"/><rect x="753.4" y="808.0" width="2.7" height="3.0" fill="#3a2a22"/></g>
<g transform="rotate(-45 758.7 813.5)"><rect x="756.0" y="812.0" width="5.4" height="3.0" fill="#f2c8b8"/><rect x="757.4" y="812.0" width="2.7" height="3.0" fill="#3a2a22"/></g>
<g transform="rotate(45 772.7 809.5)"><rect x="770.0" y="808.0" width="5.4" height="3.0" fill="#f2c8b8"/><rect x="771.4" y="808.0" width="2.7" height="3.0" fill="#3a2a22"/></g>
<g transform="rotate(45 778.7 802.5)"><rect x="776.0" y="801.0" width="5.4" height="3.0" fill="#f2c8b8"/><rect x="777.4" y="801.0" width="2.7" height="3.0" fill="#3a2a22"/></g>
<g><rect x="797.0" y="754.0" width="6.0" height="3.2" fill="#f2c8b8"/><rect x="798.5" y="754.0" width="3.0" height="3.2" fill="#3a2a22"/></g>
<g><rect x="797.0" y="762.0" width="6.0" height="3.2" fill="#f2c8b8"/><rect x="798.5" y="762.0" width="3.0" height="3.2" fill="#3a2a22"/></g>
<g><rect x="797.0" y="770.0" width="6.0" height="3.2" fill="#f2c8b8"/><rect x="798.5" y="770.0" width="3.0" height="3.2" fill="#3a2a22"/></g>
<g><rect x="797.0" y="778.0" width="6.0" height="3.2" fill="#f2c8b8"/><rect x="798.5" y="778.0" width="3.0" height="3.2" fill="#3a2a22"/></g>
<g><rect x="807.0" y="756.0" width="6.0" height="3.2" fill="#f2c8b8"/><rect x="808.5" y="756.0" width="3.0" height="3.2" fill="#3a2a22"/></g>
<g><rect x="807.0" y="764.0" width="6.0" height="3.2" fill="#f2c8b8"/><rect x="808.5" y="764.0" width="3.0" height="3.2" fill="#3a2a22"/></g>
<g><rect x="807.0" y="772.0" width="6.0" height="3.2" fill="#f2c8b8"/><rect x="808.5" y="772.0" width="3.0" height="3.2" fill="#3a2a22"/></g>
<g><rect x="722.0" y="770.0" width="5.0" height="3.0" fill="#f2c8b8"/><rect x="723.2" y="770.0" width="2.5" height="3.0" fill="#3a2a22"/></g>
<g><rect x="722.0" y="778.0" width="5.0" height="3.0" fill="#f2c8b8"/><rect x="723.2" y="778.0" width="2.5" height="3.0" fill="#3a2a22"/></g>
<g><rect x="722.0" y="800.0" width="5.0" height="3.0" fill="#f2c8b8"/><rect x="723.2" y="800.0" width="2.5" height="3.0" fill="#3a2a22"/></g>
<g><rect x="727.0" y="788.0" width="5.0" height="3.0" fill="#f2c8b8"/><rect x="728.2" y="788.0" width="2.5" height="3.0" fill="#3a2a22"/></g>
<g><rect x="700.0" y="742.0" width="5.0" height="3.0" fill="#f2c8b8"/><rect x="701.2" y="742.0" width="2.5" height="3.0" fill="#3a2a22"/></g>
<g><rect x="700.0" y="750.0" width="5.0" height="3.0" fill="#f2c8b8"/><rect x="701.2" y="750.0" width="2.5" height="3.0" fill="#3a2a22"/></g>
<g><rect x="699.0" y="770.0" width="5.0" height="3.0" fill="#f2c8b8"/><rect x="700.2" y="770.0" width="2.5" height="3.0" fill="#3a2a22"/></g>
<g><rect x="700.0" y="792.0" width="5.0" height="3.0" fill="#f2c8b8"/><rect x="701.2" y="792.0" width="2.5" height="3.0" fill="#3a2a22"/></g>
<g><rect x="701.0" y="803.0" width="5.0" height="3.0" fill="#f2c8b8"/><rect x="702.2" y="803.0" width="2.5" height="3.0" fill="#3a2a22"/></g>
<g><rect x="702.0" y="838.0" width="5.0" height="3.0" fill="#f2c8b8"/><rect x="703.2" y="838.0" width="2.5" height="3.0" fill="#3a2a22"/></g>
<g><rect x="708.0" y="838.0" width="5.0" height="3.0" fill="#f2c8b8"/><rect x="709.2" y="838.0" width="2.5" height="3.0" fill="#3a2a22"/></g>
<g><rect x="702.0" y="826.0" width="5.0" height="3.0" fill="#f2c8b8"/><rect x="703.2" y="826.0" width="2.5" height="3.0" fill="#3a2a22"/></g>
<rect x="659.0" y="700.0" width="3.0" height="3.0" fill="#f6d0c0" />
<rect x="659.0" y="707.0" width="3.0" height="3.0" fill="#f6d0c0" />
<rect x="689.0" y="676.0" width="3.0" height="3.0" fill="#f6d0c0" />
<rect x="689.0" y="684.0" width="3.0" height="3.0" fill="#f6d0c0" />
<rect x="689.0" y="692.0" width="3.0" height="3.0" fill="#f6d0c0" />
<rect x="689.0" y="700.0" width="3.0" height="3.0" fill="#f6d0c0" />
<rect x="689.0" y="708.0" width="3.0" height="3.0" fill="#f6d0c0" />
<rect x="689.0" y="716.0" width="3.0" height="3.0" fill="#f6d0c0" />
<rect x="696.0" y="706.0" width="3.0" height="3.0" fill="#f6d0c0" />
<rect x="696.0" y="716.0" width="3.0" height="3.0" fill="#f6d0c0" />
<rect x="804.2" y="823.0" width="5.6" height="2.6" fill="#f2a890" opacity="0.90" />
<rect x="804.2" y="827.8" width="5.6" height="2.6" fill="#f2a890" opacity="0.90" />
<rect x="804.2" y="832.6" width="5.6" height="2.6" fill="#f2a890" opacity="0.90" />
<rect x="804.2" y="837.4" width="5.6" height="2.6" fill="#f2a890" opacity="0.90" />
<rect x="804.2" y="842.2" width="5.6" height="2.6" fill="#f2a890" opacity="0.90" />
<rect x="804.2" y="847.0" width="5.6" height="2.6" fill="#f2a890" opacity="0.90" />
<rect x="804.2" y="851.8" width="5.6" height="2.6" fill="#f2a890" opacity="0.90" />
<rect x="804.2" y="856.6" width="5.6" height="2.6" fill="#f2a890" opacity="0.90" />
<rect x="804.2" y="861.4" width="5.6" height="2.6" fill="#f2a890" opacity="0.90" />
<rect x="804.2" y="866.2" width="5.6" height="2.6" fill="#f2a890" opacity="0.90" />
<rect x="804.2" y="871.0" width="5.6" height="2.6" fill="#f2a890" opacity="0.90" />
<rect x="804.2" y="875.8" width="5.6" height="2.6" fill="#f2a890" opacity="0.90" />
<rect x="668.8" y="633.6" width="19.4" height="38.6" fill="#ecece8" rx="1.0" />
<rect x="671.0" y="640.0" width="15.0" height="10.0" fill="#dededa" opacity="0.80" />
<rect x="671.0" y="655.0" width="15.0" height="10.0" fill="#dededa" opacity="0.80" />
<rect x="692.6" y="633.2" width="33.2" height="22.4" fill="#ecece6" rx="1.0" />
<rect x="694.1" y="641.0" width="30.2" height="7.8" fill="#dcdcd4" opacity="0.90" />
<rect x="692.6" y="653.6" width="33.2" height="2.0" fill="#c8c4bc" opacity="0.80" />
<rect x="727.8" y="633.1" width="33.2" height="22.4" fill="#ecece6" rx="1.0" />
<rect x="729.3" y="640.9" width="30.2" height="7.8" fill="#dcdcd4" opacity="0.90" />
<rect x="727.8" y="653.5" width="33.2" height="2.0" fill="#c8c4bc" opacity="0.80" />
<path d="M726.2 636L728.2 655" stroke="#5a4030" stroke-width="1.4" fill="none"/>
<rect x="762.6" y="633.0" width="33.2" height="22.4" fill="#ecece6" rx="1.0" />
<rect x="764.1" y="640.8" width="30.2" height="7.8" fill="#dcdcd4" opacity="0.90" />
<rect x="762.6" y="653.4" width="33.2" height="2.0" fill="#c8c4bc" opacity="0.80" />
<path d="M761.0 636L763.0 655" stroke="#5a4030" stroke-width="1.4" fill="none"/>
<rect x="797.2" y="632.9" width="33.2" height="22.4" fill="#ecece6" rx="1.0" />
<rect x="798.7" y="640.7" width="30.2" height="7.8" fill="#dcdcd4" opacity="0.90" />
<rect x="797.2" y="653.3" width="33.2" height="2.0" fill="#c8c4bc" opacity="0.80" />
<path d="M795.6 636L797.6 655" stroke="#5a4030" stroke-width="1.4" fill="none"/>
<rect x="832.4" y="632.8" width="33.2" height="22.4" fill="#ecece6" rx="1.0" />
<rect x="833.9" y="640.6" width="30.2" height="7.8" fill="#dcdcd4" opacity="0.90" />
<rect x="832.4" y="653.2" width="33.2" height="2.0" fill="#c8c4bc" opacity="0.80" />
<path d="M830.8 636L832.8 655" stroke="#5a4030" stroke-width="1.4" fill="none"/>
<path d="M690 638L692 656" stroke="#5a4030" stroke-width="1.4" fill="none"/>
<rect x="664.8" y="694.0" width="22.6" height="5.0" fill="#5a1a10" opacity="0.75" />
<rect x="663.8" y="672.0" width="22.6" height="23.0" fill="url(#hsG)" />
<rect x="663.8" y="676.1" width="22.6" height="1.6" fill="#b4b4b0" opacity="0.90" />
<rect x="663.8" y="672.0" width="22.6" height="1.7" fill="#ffffff" opacity="0.90" />
<rect x="663.8" y="681.9" width="22.6" height="1.6" fill="#b4b4b0" opacity="0.90" />
<rect x="663.8" y="677.8" width="22.6" height="1.7" fill="#ffffff" opacity="0.90" />
<rect x="663.8" y="687.6" width="22.6" height="1.6" fill="#b4b4b0" opacity="0.90" />
<rect x="663.8" y="683.5" width="22.6" height="1.7" fill="#ffffff" opacity="0.90" />
<rect x="663.8" y="693.4" width="22.6" height="1.6" fill="#b4b4b0" opacity="0.90" />
<rect x="663.8" y="689.2" width="22.6" height="1.7" fill="#ffffff" opacity="0.90" />
<rect x="665.0" y="717.6" width="22.6" height="5.0" fill="#5a1a10" opacity="0.75" />
<rect x="664.0" y="695.6" width="22.6" height="23.0" fill="url(#hsG)" />
<rect x="664.0" y="699.7" width="22.6" height="1.6" fill="#b4b4b0" opacity="0.90" />
<rect x="664.0" y="695.6" width="22.6" height="1.7" fill="#ffffff" opacity="0.90" />
<rect x="664.0" y="705.5" width="22.6" height="1.6" fill="#b4b4b0" opacity="0.90" />
<rect x="664.0" y="701.4" width="22.6" height="1.7" fill="#ffffff" opacity="0.90" />
<rect x="664.0" y="711.2" width="22.6" height="1.6" fill="#b4b4b0" opacity="0.90" />
<rect x="664.0" y="707.1" width="22.6" height="1.7" fill="#ffffff" opacity="0.90" />
<rect x="664.0" y="717.0" width="22.6" height="1.6" fill="#b4b4b0" opacity="0.90" />
<rect x="664.0" y="712.9" width="22.6" height="1.7" fill="#ffffff" opacity="0.90" />
<rect x="702.0" y="671.0" width="29.4" height="31.0" fill="none" stroke="#f08a70" stroke-width="0.8"/>
<rect x="706.0" y="696.6" width="23.0" height="5.0" fill="#5a1a10" opacity="0.75" />
<rect x="705.0" y="674.0" width="23.0" height="23.6" fill="url(#hsG)" />
<rect x="705.0" y="678.2" width="23.0" height="1.7" fill="#b4b4b0" opacity="0.90" />
<rect x="705.0" y="674.0" width="23.0" height="1.8" fill="#ffffff" opacity="0.90" />
<rect x="705.0" y="684.1" width="23.0" height="1.7" fill="#b4b4b0" opacity="0.90" />
<rect x="705.0" y="679.9" width="23.0" height="1.8" fill="#ffffff" opacity="0.90" />
<rect x="705.0" y="690.0" width="23.0" height="1.7" fill="#b4b4b0" opacity="0.90" />
<rect x="705.0" y="685.8" width="23.0" height="1.8" fill="#ffffff" opacity="0.90" />
<rect x="705.0" y="695.9" width="23.0" height="1.7" fill="#b4b4b0" opacity="0.90" />
<rect x="705.0" y="691.7" width="23.0" height="1.8" fill="#ffffff" opacity="0.90" />
<rect x="747.0" y="671.0" width="29.4" height="31.0" fill="none" stroke="#f08a70" stroke-width="0.8"/>
<rect x="751.0" y="696.6" width="23.0" height="5.0" fill="#5a1a10" opacity="0.75" />
<rect x="750.0" y="674.0" width="23.0" height="23.6" fill="url(#hsG)" />
<rect x="750.0" y="678.2" width="23.0" height="1.7" fill="#b4b4b0" opacity="0.90" />
<rect x="750.0" y="674.0" width="23.0" height="1.8" fill="#ffffff" opacity="0.90" />
<rect x="750.0" y="684.1" width="23.0" height="1.7" fill="#b4b4b0" opacity="0.90" />
<rect x="750.0" y="679.9" width="23.0" height="1.8" fill="#ffffff" opacity="0.90" />
<rect x="750.0" y="690.0" width="23.0" height="1.7" fill="#b4b4b0" opacity="0.90" />
<rect x="750.0" y="685.8" width="23.0" height="1.8" fill="#ffffff" opacity="0.90" />
<rect x="750.0" y="695.9" width="23.0" height="1.7" fill="#b4b4b0" opacity="0.90" />
<rect x="750.0" y="691.7" width="23.0" height="1.8" fill="#ffffff" opacity="0.90" />
<rect x="792.0" y="671.0" width="29.4" height="31.0" fill="none" stroke="#f08a70" stroke-width="0.8"/>
<rect x="796.0" y="696.6" width="23.0" height="5.0" fill="#5a1a10" opacity="0.75" />
<rect x="795.0" y="674.0" width="23.0" height="23.6" fill="url(#hsG)" />
<rect x="795.0" y="678.2" width="23.0" height="1.7" fill="#b4b4b0" opacity="0.90" />
<rect x="795.0" y="674.0" width="23.0" height="1.8" fill="#ffffff" opacity="0.90" />
<rect x="795.0" y="684.1" width="23.0" height="1.7" fill="#b4b4b0" opacity="0.90" />
<rect x="795.0" y="679.9" width="23.0" height="1.8" fill="#ffffff" opacity="0.90" />
<rect x="795.0" y="690.0" width="23.0" height="1.7" fill="#b4b4b0" opacity="0.90" />
<rect x="795.0" y="685.8" width="23.0" height="1.8" fill="#ffffff" opacity="0.90" />
<rect x="795.0" y="695.9" width="23.0" height="1.7" fill="#b4b4b0" opacity="0.90" />
<rect x="795.0" y="691.7" width="23.0" height="1.8" fill="#ffffff" opacity="0.90" />
<rect x="837.6" y="671.0" width="29.4" height="31.0" fill="none" stroke="#f08a70" stroke-width="0.8"/>
<rect x="841.6" y="696.6" width="23.0" height="5.0" fill="#5a1a10" opacity="0.75" />
<rect x="840.6" y="674.0" width="23.0" height="23.6" fill="url(#hsG)" />
<rect x="840.6" y="678.2" width="23.0" height="1.7" fill="#b4b4b0" opacity="0.90" />
<rect x="840.6" y="674.0" width="23.0" height="1.8" fill="#ffffff" opacity="0.90" />
<rect x="840.6" y="684.1" width="23.0" height="1.7" fill="#b4b4b0" opacity="0.90" />
<rect x="840.6" y="679.9" width="23.0" height="1.8" fill="#ffffff" opacity="0.90" />
<rect x="840.6" y="690.0" width="23.0" height="1.7" fill="#b4b4b0" opacity="0.90" />
<rect x="840.6" y="685.8" width="23.0" height="1.8" fill="#ffffff" opacity="0.90" />
<rect x="840.6" y="695.9" width="23.0" height="1.7" fill="#b4b4b0" opacity="0.90" />
<rect x="840.6" y="691.7" width="23.0" height="1.8" fill="#ffffff" opacity="0.90" />
<rect x="671.0" y="782.4" width="22.6" height="5.0" fill="#5a1a10" opacity="0.75" />
<rect x="670.0" y="759.4" width="22.6" height="24.0" fill="url(#hsG)" />
<rect x="670.0" y="763.7" width="22.6" height="1.7" fill="#b4b4b0" opacity="0.90" />
<rect x="670.0" y="759.4" width="22.6" height="1.8" fill="#ffffff" opacity="0.90" />
<rect x="670.0" y="769.7" width="22.6" height="1.7" fill="#b4b4b0" opacity="0.90" />
<rect x="670.0" y="765.4" width="22.6" height="1.8" fill="#ffffff" opacity="0.90" />
<rect x="670.0" y="775.7" width="22.6" height="1.7" fill="#b4b4b0" opacity="0.90" />
<rect x="670.0" y="771.4" width="22.6" height="1.8" fill="#ffffff" opacity="0.90" />
<rect x="670.0" y="781.7" width="22.6" height="1.7" fill="#b4b4b0" opacity="0.90" />
<rect x="670.0" y="777.4" width="22.6" height="1.8" fill="#ffffff" opacity="0.90" />
<rect x="672.4" y="813.6" width="23.6" height="5.0" fill="#5a1a10" opacity="0.75" />
<rect x="671.4" y="784.6" width="23.6" height="30.0" fill="url(#hsG)" />
<rect x="671.4" y="788.9" width="23.6" height="1.7" fill="#b4b4b0" opacity="0.90" />
<rect x="671.4" y="784.6" width="23.6" height="1.8" fill="#ffffff" opacity="0.90" />
<rect x="671.4" y="794.9" width="23.6" height="1.7" fill="#b4b4b0" opacity="0.90" />
<rect x="671.4" y="790.6" width="23.6" height="1.8" fill="#ffffff" opacity="0.90" />
<rect x="671.4" y="800.9" width="23.6" height="1.7" fill="#b4b4b0" opacity="0.90" />
<rect x="671.4" y="796.6" width="23.6" height="1.8" fill="#ffffff" opacity="0.90" />
<rect x="671.4" y="806.9" width="23.6" height="1.7" fill="#b4b4b0" opacity="0.90" />
<rect x="671.4" y="802.6" width="23.6" height="1.8" fill="#ffffff" opacity="0.90" />
<rect x="671.4" y="812.9" width="23.6" height="1.7" fill="#b4b4b0" opacity="0.90" />
<rect x="671.4" y="808.6" width="23.6" height="1.8" fill="#ffffff" opacity="0.90" />
<rect x="693.6" y="796.0" width="14.0" height="4.0" fill="#e8e4dc" />
<rect x="693.6" y="809.0" width="14.0" height="4.0" fill="#e8e4dc" />
<rect x="697.0" y="790.0" width="8.0" height="6.0" fill="#2a2220" />
<rect x="697.0" y="803.0" width="8.0" height="6.0" fill="#2a2220" />
<rect x="718.5" y="716.6" width="19.0" height="7.0" fill="#2a1c18" rx="2.0" opacity="0.85" />
<path d="M719.5 707.6V720.6A8.0 4.8 0 0 0 735.5 720.6V707.6Z" fill="url(#capBody)"/>
<ellipse cx="727.5" cy="707.6" rx="8.0" ry="6.4" fill="#e4e4e0" />
<path d="M720.3 710.0A8.0 6.4 0 0 0 734.7 710.0Q727.5 708.8 720.3 710.0Z" fill="#34302c"/>
<text class="sans" x="727.5" y="707.6" font-size="4" fill="#55504a" text-anchor="middle" transform="rotate(-20 727.5 707.6)">47</text>
<rect x="764.8" y="716.6" width="19.0" height="7.0" fill="#2a1c18" rx="2.0" opacity="0.85" />
<path d="M765.8 707.6V720.6A8.0 4.8 0 0 0 781.8 720.6V707.6Z" fill="url(#capBody)"/>
<ellipse cx="773.8" cy="707.6" rx="8.0" ry="6.4" fill="#e4e4e0" />
<path d="M766.6 710.0A8.0 6.4 0 0 0 781.0 710.0Q773.8 708.8 766.6 710.0Z" fill="#34302c"/>
<text class="sans" x="773.8" y="707.6" font-size="4" fill="#55504a" text-anchor="middle" transform="rotate(-20 773.8 707.6)">47</text>
<rect x="812.0" y="716.6" width="19.0" height="7.0" fill="#2a1c18" rx="2.0" opacity="0.85" />
<path d="M813.0 707.6V720.6A8.0 4.8 0 0 0 829.0 720.6V707.6Z" fill="url(#capBody)"/>
<ellipse cx="821.0" cy="707.6" rx="8.0" ry="6.4" fill="#e4e4e0" />
<path d="M813.8 710.0A8.0 6.4 0 0 0 828.2 710.0Q821.0 708.8 813.8 710.0Z" fill="#34302c"/>
<text class="sans" x="821.0" y="707.6" font-size="4" fill="#55504a" text-anchor="middle" transform="rotate(-20 821.0 707.6)">47</text>
<rect x="858.0" y="716.6" width="19.0" height="7.0" fill="#2a1c18" rx="2.0" opacity="0.85" />
<path d="M859.0 707.6V720.6A8.0 4.8 0 0 0 875.0 720.6V707.6Z" fill="url(#capBody)"/>
<ellipse cx="867.0" cy="707.6" rx="8.0" ry="6.4" fill="#e4e4e0" />
<path d="M859.8 710.0A8.0 6.4 0 0 0 874.2 710.0Q867.0 708.8 859.8 710.0Z" fill="#34302c"/>
<text class="sans" x="867.0" y="707.6" font-size="4" fill="#55504a" text-anchor="middle" transform="rotate(-20 867.0 707.6)">47</text>
<ellipse cx="648.6" cy="680.0" rx="9.0" ry="8.0" fill="#3a2c26" opacity="0.90" />
<ellipse cx="647.2" cy="678.6" rx="8.0" ry="8.0" fill="#7a7672" />
<ellipse cx="645.6" cy="677.0" rx="7.4" ry="7.8" fill="#dcdcd8" />
<path d="M647.2 669.4A8.0 8.0 0 0 1 651.6 681.4Q648.0 677.0 647.2 669.4Z" fill="#3c3834"/>
<text class="sans" x="644.1" y="678.5" font-size="4" fill="#55504a" text-anchor="middle" transform="rotate(-70 644.1 678.5)">100</text>
<ellipse cx="649.0" cy="698.6" rx="9.0" ry="8.0" fill="#3a2c26" opacity="0.90" />
<ellipse cx="647.6" cy="697.2" rx="8.0" ry="8.0" fill="#7a7672" />
<ellipse cx="646.0" cy="695.6" rx="7.4" ry="7.8" fill="#dcdcd8" />
<path d="M647.6 688.0A8.0 8.0 0 0 1 652.0 700.0Q648.4 695.6 647.6 688.0Z" fill="#3c3834"/>
<text class="sans" x="644.5" y="697.1" font-size="4" fill="#55504a" text-anchor="middle" transform="rotate(-70 644.5 697.1)">100</text>
<ellipse cx="681.8" cy="743.6" rx="9.6" ry="8.6" fill="#3a2c26" opacity="0.90" />
<ellipse cx="680.4" cy="742.2" rx="8.6" ry="8.6" fill="#7a7672" />
<ellipse cx="678.8" cy="740.6" rx="8.0" ry="8.4" fill="#dcdcd8" />
<path d="M680.5 732.4A8.6 8.6 0 0 1 685.2 745.3Q681.4 740.6 680.5 732.4Z" fill="#3c3834"/>
<text class="sans" x="677.3" y="742.1" font-size="4" fill="#55504a" text-anchor="middle" transform="rotate(-70 677.3 742.1)">100</text>
<ellipse cx="691.0" cy="831.6" rx="10.0" ry="9.0" fill="#3a2c26" opacity="0.90" />
<ellipse cx="689.6" cy="830.2" rx="9.0" ry="9.0" fill="#7a7672" />
<ellipse cx="688.0" cy="828.6" rx="8.4" ry="8.8" fill="#dcdcd8" />
<path d="M689.8 820.1A9.0 9.0 0 0 1 694.8 833.6Q690.7 828.6 689.8 820.1Z" fill="#3c3834"/>
<text class="sans" x="686.5" y="830.1" font-size="4" fill="#55504a" text-anchor="middle" transform="rotate(-70 686.5 830.1)">100</text>
<path d="M645.0 697.6 L657.6 712.6 L657.6 747.6 L645.0 735.6 Z" fill="#4b9638" />
<path d="M620.6 734.6 L645.0 735.6 L657.6 747.6 L635.4 747.6 Z" fill="#62b04a" />
<rect x="620.6" y="697.6" width="24.4" height="38.0" fill="url(#greenF)" rx="1.0" />
<rect x="620.6" y="697.6" width="24.4" height="1.4" fill="#8fd46e" opacity="0.80" />
<rect x="644.0" y="698.6" width="1.2" height="37.0" fill="#4a8f38" opacity="0.70" />
<rect x="630.2" y="701.0" width="14.8" height="10.6" fill="#3a7230" rx="1.0" />
<rect x="632.1" y="702.2" width="12.2" height="8.4" fill="#e6eae0" rx="2.4" />
<rect x="632.1" y="707.8" width="12.2" height="2.8" fill="#9aa892" opacity="0.85" />
<rect x="632.1" y="702.0" width="12.2" height="1.6" fill="#4a6a40" opacity="0.60" />
<rect x="630.2" y="715.0" width="14.8" height="10.6" fill="#3a7230" rx="1.0" />
<rect x="632.1" y="716.2" width="12.2" height="8.4" fill="#e6eae0" rx="2.4" />
<rect x="632.1" y="721.8" width="12.2" height="2.8" fill="#9aa892" opacity="0.85" />
<rect x="632.1" y="716.0" width="12.2" height="1.6" fill="#4a6a40" opacity="0.60" />
<path d="M644.4 736.0 L657.0 750.4 L657.0 784.0 L644.4 772.5 Z" fill="#4b9638" />
<path d="M620.0 771.5 L644.4 772.5 L657.0 784.0 L634.8 784.0 Z" fill="#62b04a" />
<rect x="620.0" y="736.0" width="24.4" height="36.5" fill="url(#greenF)" rx="1.0" />
<rect x="620.0" y="736.0" width="24.4" height="1.4" fill="#8fd46e" opacity="0.80" />
<rect x="643.4" y="737.0" width="1.2" height="35.5" fill="#4a8f38" opacity="0.70" />
<rect x="629.6" y="739.0" width="14.8" height="10.6" fill="#3a7230" rx="1.0" />
<rect x="631.5" y="740.2" width="12.2" height="8.4" fill="#e6eae0" rx="2.4" />
<rect x="631.5" y="745.8" width="12.2" height="2.8" fill="#9aa892" opacity="0.85" />
<rect x="631.5" y="740.0" width="12.2" height="1.6" fill="#4a6a40" opacity="0.60" />
<rect x="629.6" y="752.2" width="14.8" height="10.6" fill="#3a7230" rx="1.0" />
<rect x="631.5" y="753.4" width="12.2" height="8.4" fill="#e6eae0" rx="2.4" />
<rect x="631.5" y="759.0" width="12.2" height="2.8" fill="#9aa892" opacity="0.85" />
<rect x="631.5" y="753.2" width="12.2" height="1.6" fill="#4a6a40" opacity="0.60" />
<path d="M644.3 774.6 L657.0 788.3 L657.0 820.2 L644.3 809.3 Z" fill="#4b9638" />
<path d="M619.6 808.3 L644.3 809.3 L657.0 820.2 L634.6 820.2 Z" fill="#62b04a" />
<rect x="619.6" y="774.6" width="24.7" height="34.7" fill="url(#greenF)" rx="1.0" />
<rect x="619.6" y="774.6" width="24.7" height="1.4" fill="#8fd46e" opacity="0.80" />
<rect x="643.3" y="775.6" width="1.2" height="33.7" fill="#4a8f38" opacity="0.70" />
<rect x="629.3" y="776.8" width="15.0" height="10.6" fill="#3a7230" rx="1.0" />
<rect x="631.2" y="778.0" width="12.3" height="8.4" fill="#e6eae0" rx="2.4" />
<rect x="631.2" y="783.6" width="12.3" height="2.8" fill="#9aa892" opacity="0.85" />
<rect x="631.2" y="777.8" width="12.3" height="1.6" fill="#4a6a40" opacity="0.60" />
<rect x="629.3" y="791.0" width="15.0" height="10.6" fill="#3a7230" rx="1.0" />
<rect x="631.2" y="792.2" width="12.3" height="8.4" fill="#e6eae0" rx="2.4" />
<rect x="631.2" y="797.8" width="12.3" height="2.8" fill="#9aa892" opacity="0.85" />
<rect x="631.2" y="792.0" width="12.3" height="1.6" fill="#4a6a40" opacity="0.60" />
<g transform="rotate(12 679.8 869.4)">
<ellipse cx="679.8" cy="869.4" rx="11.8" ry="17.4" fill="#e9e272" stroke="#d8c84a" stroke-width="1"/>
<text class="sans" transform="translate(678.4 869.4) rotate(-90)" text-anchor="middle" font-size="6.4" font-weight="bold" fill="#4e8a3a">Q.C</text>
<text class="sans" transform="translate(685.4 869.4) rotate(-90)" text-anchor="middle" font-size="5.2" font-weight="bold" fill="#4e8a3a" textLength="22" lengthAdjust="spacingAndGlyphs">PASSED</text>
</g>
<g transform="rotate(45 763.2 786.2)">
<rect x="746.6" y="769.6" width="33.2" height="33.2" fill="#f2b09a" opacity="0.90" />
<rect x="746.6" y="772.8" width="33.2" height="0.9" fill="#d4341c" />
<rect x="749.8" y="769.6" width="0.9" height="33.2" fill="#d4341c" />
<rect x="746.6" y="775.2" width="33.2" height="0.9" fill="#d4341c" />
<rect x="752.2" y="769.6" width="0.9" height="33.2" fill="#d4341c" />
<rect x="746.6" y="777.6" width="33.2" height="0.9" fill="#d4341c" />
<rect x="754.6" y="769.6" width="0.9" height="33.2" fill="#d4341c" />
<rect x="746.6" y="780.0" width="33.2" height="0.9" fill="#d4341c" />
<rect x="757.0" y="769.6" width="0.9" height="33.2" fill="#d4341c" />
<rect x="746.6" y="782.4" width="33.2" height="0.9" fill="#d4341c" />
<rect x="759.4" y="769.6" width="0.9" height="33.2" fill="#d4341c" />
<rect x="746.6" y="784.8" width="33.2" height="0.9" fill="#d4341c" />
<rect x="761.8" y="769.6" width="0.9" height="33.2" fill="#d4341c" />
<rect x="746.6" y="787.2" width="33.2" height="0.9" fill="#d4341c" />
<rect x="764.2" y="769.6" width="0.9" height="33.2" fill="#d4341c" />
<rect x="746.6" y="789.6" width="33.2" height="0.9" fill="#d4341c" />
<rect x="766.6" y="769.6" width="0.9" height="33.2" fill="#d4341c" />
<rect x="746.6" y="792.0" width="33.2" height="0.9" fill="#d4341c" />
<rect x="769.0" y="769.6" width="0.9" height="33.2" fill="#d4341c" />
<rect x="746.6" y="794.4" width="33.2" height="0.9" fill="#d4341c" />
<rect x="771.4" y="769.6" width="0.9" height="33.2" fill="#d4341c" />
<rect x="746.6" y="796.8" width="33.2" height="0.9" fill="#d4341c" />
<rect x="773.8" y="769.6" width="0.9" height="33.2" fill="#d4341c" />
<rect x="746.6" y="799.2" width="33.2" height="0.9" fill="#d4341c" />
<rect x="776.2" y="769.6" width="0.9" height="33.2" fill="#d4341c" />
<rect x="749.6" y="772.6" width="27.2" height="27.2" fill="#1c2620" rx="0.6" />
<rect x="752.2" y="775.2" width="22.0" height="9.0" fill="#2a382e" opacity="0.50" />
<circle cx="753.2" cy="796.2" r="1.0" fill="#4a5a50" />
</g>
<g transform="rotate(40 736 758.8)">
<rect x="729.6" y="752.4" width="12.8" height="12.8" fill="#dcdcd6" rx="1.2" />
<circle cx="736.0" cy="758.8" r="3.6" fill="#f4f4f0" />
<circle cx="736.0" cy="758.8" r="2.0" fill="#cfcfc8" />
</g>
<text class="sans" transform="translate(744.5 744.5) rotate(45)" font-size="4.6" fill="#f6c4b4">RES</text>
<rect x="780.6" y="748.6" width="10.0" height="7.4" fill="#1c1616" rx="0.6" />
<rect x="781.0" y="756.0" width="2.2" height="4.4" fill="#2a2020" />
<rect x="784.6" y="756.0" width="2.2" height="4.4" fill="#2a2020" />
<rect x="788.0" y="756.0" width="2.2" height="4.4" fill="#2a2020" />
<circle cx="785.6" cy="750.6" r="1.2" fill="#e8d0c8" />
<g transform="rotate(-38 798 801.6)">
<rect x="781.0" y="799.4" width="34.0" height="4.4" fill="#e6dcd4" opacity="0.90" />
<rect x="784.6" y="796.4" width="27.0" height="10.4" fill="#8a8680" rx="5.0" />
<rect x="785.4" y="796.2" width="25.4" height="8.6" fill="#deded8" rx="4.3" />
<rect x="788.0" y="797.4" width="20.0" height="3.0" fill="#f6f6f2" rx="1.5" />
</g>
<rect x="819.8" y="754.0" width="1.8" height="18.4" fill="#f0d8cc" />
<rect x="823.9" y="754.0" width="1.8" height="18.4" fill="#f0d8cc" />
<rect x="827.9" y="754.0" width="1.8" height="18.4" fill="#f0d8cc" />
<rect x="832.0" y="754.0" width="1.8" height="18.4" fill="#f0d8cc" />
<rect x="836.1" y="754.0" width="1.8" height="18.4" fill="#f0d8cc" />
<rect x="840.1" y="754.0" width="1.8" height="18.4" fill="#f0d8cc" />
<rect x="844.2" y="754.0" width="1.8" height="18.4" fill="#f0d8cc" />
<rect x="818.6" y="757.4" width="28.6" height="11.6" fill="#1a1816" rx="0.4" />
<rect x="819.6" y="758.4" width="26.6" height="4.1" fill="#2e2c2a" opacity="0.70" />
<rect x="819.8" y="782.0" width="1.8" height="18.4" fill="#f0d8cc" />
<rect x="823.9" y="782.0" width="1.8" height="18.4" fill="#f0d8cc" />
<rect x="827.9" y="782.0" width="1.8" height="18.4" fill="#f0d8cc" />
<rect x="832.0" y="782.0" width="1.8" height="18.4" fill="#f0d8cc" />
<rect x="836.1" y="782.0" width="1.8" height="18.4" fill="#f0d8cc" />
<rect x="840.1" y="782.0" width="1.8" height="18.4" fill="#f0d8cc" />
<rect x="844.2" y="782.0" width="1.8" height="18.4" fill="#f0d8cc" />
<rect x="818.6" y="785.4" width="28.6" height="11.6" fill="#1a1816" rx="0.4" />
<rect x="819.6" y="786.4" width="26.6" height="4.1" fill="#2e2c2a" opacity="0.70" />
<rect x="852.6" y="742.4" width="41.4" height="42.4" fill="#a09890" rx="1.0" />
<rect x="853.4" y="742.8" width="39.6" height="40.0" fill="#dededa" rx="1.0" />
<rect x="856.0" y="746.0" width="34.0" height="33.0" fill="#e6e6e2" rx="1.0" />
<path d="M876 746.6q0 -3 3 -3h5" stroke="#3a3430" stroke-width="1" fill="none"/>
<rect x="858.6" y="781.4" width="12.0" height="1.6" fill="#2a2420" />
<rect x="854.6" y="785.0" width="5.0" height="3.4" fill="#f0d0c4" />
<rect x="881.0" y="785.0" width="5.0" height="3.4" fill="#f0d0c4" />
<rect x="851.0" y="750.0" width="2.0" height="2.0" fill="#f0c0b0" />
<rect x="851.0" y="753.6" width="2.0" height="2.0" fill="#f0c0b0" />
<rect x="851.0" y="757.2" width="2.0" height="2.0" fill="#f0c0b0" />
<rect x="851.0" y="760.8" width="2.0" height="2.0" fill="#f0c0b0" />
<rect x="851.0" y="764.4" width="2.0" height="2.0" fill="#f0c0b0" />
<rect x="851.0" y="768.0" width="2.0" height="2.0" fill="#f0c0b0" />
<rect x="851.0" y="771.6" width="2.0" height="2.0" fill="#f0c0b0" />
<rect x="851.0" y="775.2" width="2.0" height="2.0" fill="#f0c0b0" />
<rect x="897.0" y="823.0" width="16.0" height="12.0" fill="#c6c6c0" rx="0.6" />
<rect x="867.6" y="790.6" width="45.4" height="34.0" fill="url(#usbG)" rx="1.0" />
<rect x="869.0" y="792.0" width="42.0" height="3.0" fill="#f2f2ee" opacity="0.80" />
<rect x="868.0" y="822.4" width="45.0" height="1.4" fill="#a8a8a2" opacity="0.80" />
<rect x="897.0" y="829.0" width="16.0" height="1.0" fill="#b0b0aa" />
<circle cx="883.6" cy="835.0" r="2.6" fill="#5a2a20" />
<circle cx="883.6" cy="832.4" r="1.6" fill="#2a1a16" />
<rect x="820.0" y="812.6" width="36.0" height="5.0" fill="#eee0d8" opacity="0.85" />
<rect x="823.0" y="806.6" width="29.6" height="11.0" fill="#8a8680" rx="5.5" />
<rect x="823.6" y="806.4" width="28.4" height="9.0" fill="#e2e2dc" rx="4.5" />
<rect x="827.0" y="807.4" width="21.0" height="3.0" fill="#f8f8f4" rx="1.5" />
<rect x="811.2" y="821.0" width="54.0" height="34.4" fill="#141414" rx="1.0" />
<rect x="813.2" y="823.4" width="50.0" height="25.4" fill="#0a0a0a" rx="1.0" stroke="#3a3a3a" stroke-width="0.8"/>
<rect x="828.5" y="847.9" width="18.4" height="4.0" fill="#2c2c2c" />
<rect x="811.2" y="852.0" width="54.0" height="1.0" fill="#3c3c3c" />
<circle cx="823.2" cy="829.4" r="0.9" fill="#e8e8e8" />
<circle cx="830.4" cy="829.4" r="0.9" fill="#e8e8e8" />
<circle cx="837.6" cy="829.4" r="0.9" fill="#e8e8e8" />
<circle cx="844.8" cy="829.4" r="0.9" fill="#e8e8e8" />
<circle cx="852.0" cy="829.4" r="0.9" fill="#e8e8e8" />
<circle cx="823.2" cy="837.2" r="0.9" fill="#e8e8e8" />
<circle cx="830.4" cy="837.2" r="0.9" fill="#e8e8e8" />
<circle cx="837.6" cy="837.2" r="0.9" fill="#e8e8e8" />
<circle cx="844.8" cy="837.2" r="0.9" fill="#e8e8e8" />
<circle cx="852.0" cy="837.2" r="0.9" fill="#e8e8e8" />
<rect x="811.6" y="855.4" width="54.0" height="32.6" fill="#141414" rx="1.0" />
<rect x="813.6" y="857.8" width="50.0" height="23.6" fill="#0a0a0a" rx="1.0" stroke="#3a3a3a" stroke-width="0.8"/>
<rect x="828.9" y="880.5" width="18.4" height="4.0" fill="#2c2c2c" />
<rect x="811.6" y="884.6" width="54.0" height="1.0" fill="#3c3c3c" />
<circle cx="825.6" cy="865.6" r="0.9" fill="#e8e8e8" />
<circle cx="832.8" cy="865.6" r="0.9" fill="#e8e8e8" />
<circle cx="840.0" cy="865.6" r="0.9" fill="#e8e8e8" />
<circle cx="847.2" cy="865.6" r="0.9" fill="#e8e8e8" />
<circle cx="854.4" cy="865.6" r="0.9" fill="#e8e8e8" />
<circle cx="825.6" cy="873.4" r="0.9" fill="#e8e8e8" />
<circle cx="832.8" cy="873.4" r="0.9" fill="#e8e8e8" />
<circle cx="840.0" cy="873.4" r="0.9" fill="#e8e8e8" />
<circle cx="847.2" cy="873.4" r="0.9" fill="#e8e8e8" />
<circle cx="854.4" cy="873.4" r="0.9" fill="#e8e8e8" />
<rect x="709.4" y="856.6" width="16.6" height="37.0" fill="#eeeee8" rx="1.2" />
<rect x="712.4" y="863.0" width="9.6" height="24.0" fill="#e0dfd8" rx="1.0" opacity="0.90" />
<rect x="714.4" y="868.0" width="5.0" height="3.0" fill="#f0d8c0" opacity="0.70" />
<rect x="714.4" y="877.0" width="5.0" height="3.0" fill="#e8e0d8" opacity="0.70" />
<rect x="709.4" y="884.0" width="16.6" height="2.0" fill="#fafaf8" opacity="0.90" />
<rect x="727.4" y="856.6" width="16.6" height="37.0" fill="#eeeee8" rx="1.2" />
<rect x="730.4" y="863.0" width="9.6" height="24.0" fill="#e0dfd8" rx="1.0" opacity="0.90" />
<rect x="732.4" y="868.0" width="5.0" height="3.0" fill="#f0d8c0" opacity="0.70" />
<rect x="732.4" y="877.0" width="5.0" height="3.0" fill="#e8e0d8" opacity="0.70" />
<rect x="727.4" y="884.0" width="16.6" height="2.0" fill="#fafaf8" opacity="0.90" />
<rect x="726.0" y="857.0" width="1.4" height="36.0" fill="#a08880" opacity="0.60" />
<rect x="745.8" y="856.6" width="16.6" height="37.0" fill="#eeeee8" rx="1.2" />
<rect x="748.8" y="863.0" width="9.6" height="24.0" fill="#e0dfd8" rx="1.0" opacity="0.90" />
<rect x="750.8" y="868.0" width="5.0" height="3.0" fill="#f0d8c0" opacity="0.70" />
<rect x="750.8" y="877.0" width="5.0" height="3.0" fill="#e8e0d8" opacity="0.70" />
<rect x="745.8" y="884.0" width="16.6" height="2.0" fill="#fafaf8" opacity="0.90" />
<rect x="744.4" y="857.0" width="1.4" height="36.0" fill="#a08880" opacity="0.60" />
<rect x="764.4" y="856.6" width="16.6" height="37.0" fill="#eeeee8" rx="1.2" />
<rect x="767.4" y="863.0" width="9.6" height="24.0" fill="#e0dfd8" rx="1.0" opacity="0.90" />
<rect x="769.4" y="868.0" width="5.0" height="3.0" fill="#f0d8c0" opacity="0.70" />
<rect x="769.4" y="877.0" width="5.0" height="3.0" fill="#e8e0d8" opacity="0.70" />
<rect x="764.4" y="884.0" width="16.6" height="2.0" fill="#fafaf8" opacity="0.90" />
<rect x="763.0" y="857.0" width="1.4" height="36.0" fill="#a08880" opacity="0.60" />
<rect x="782.6" y="856.6" width="17.6" height="37.0" fill="#eeeee8" rx="1.2" />
<rect x="785.6" y="863.0" width="9.6" height="24.0" fill="#e0dfd8" rx="1.0" opacity="0.90" />
<rect x="787.6" y="868.0" width="5.0" height="3.0" fill="#f0d8c0" opacity="0.70" />
<rect x="787.6" y="877.0" width="5.0" height="3.0" fill="#e8e0d8" opacity="0.70" />
<rect x="782.6" y="884.0" width="16.6" height="2.0" fill="#fafaf8" opacity="0.90" />
<rect x="781.2" y="857.0" width="1.4" height="36.0" fill="#a08880" opacity="0.60" />
<rect x="758.6" y="826.8" width="21.6" height="14.4" fill="#d8331c" stroke="#f08a70" stroke-width="0.8"/>
<circle cx="761.9" cy="830.2" r="2.1" fill="#f4b8a4" />
<circle cx="761.9" cy="830.2" r="1.0" fill="#a02414" />
<circle cx="761.9" cy="837.3" r="2.1" fill="#f4b8a4" />
<circle cx="761.9" cy="837.3" r="1.0" fill="#a02414" />
<circle cx="768.6" cy="830.2" r="2.1" fill="#f4b8a4" />
<circle cx="768.6" cy="830.2" r="1.0" fill="#a02414" />
<circle cx="768.6" cy="837.3" r="2.1" fill="#f4b8a4" />
<circle cx="768.6" cy="837.3" r="1.0" fill="#a02414" />
<circle cx="775.4" cy="830.2" r="2.1" fill="#f4b8a4" />
<circle cx="775.4" cy="830.2" r="1.0" fill="#a02414" />
<circle cx="775.4" cy="837.3" r="2.1" fill="#f4b8a4" />
<circle cx="775.4" cy="837.3" r="1.0" fill="#a02414" />
<rect x="753.0" y="832.0" width="4.0" height="8.0" fill="#b8321c" rx="1.0" />
<rect x="723.4" y="820.4" width="4.6" height="4.0" fill="#f0c8b8" />
<rect x="723.4" y="823.6" width="4.6" height="4.4" fill="#3c3a36" />
<rect x="723.4" y="828.0" width="4.6" height="9.0" fill="#b8a880" />
<rect x="723.4" y="833.0" width="4.6" height="4.0" fill="#8a7c5c" opacity="0.80" />
<rect x="729.7" y="820.4" width="4.6" height="4.0" fill="#f0c8b8" />
<rect x="729.7" y="823.6" width="4.6" height="4.4" fill="#3c3a36" />
<rect x="729.7" y="828.0" width="4.6" height="9.0" fill="#b8a880" />
<rect x="729.7" y="833.0" width="4.6" height="4.0" fill="#8a7c5c" opacity="0.80" />
<rect x="736.0" y="820.4" width="4.6" height="4.0" fill="#f0c8b8" />
<rect x="736.0" y="823.6" width="4.6" height="4.4" fill="#3c3a36" />
<rect x="736.0" y="828.0" width="4.6" height="9.0" fill="#b8a880" />
<rect x="736.0" y="833.0" width="4.6" height="4.0" fill="#8a7c5c" opacity="0.80" />
<rect x="742.3" y="820.4" width="4.6" height="4.0" fill="#f0c8b8" />
<rect x="742.3" y="823.6" width="4.6" height="4.4" fill="#3c3a36" />
<rect x="742.3" y="828.0" width="4.6" height="9.0" fill="#b8a880" />
<rect x="742.3" y="833.0" width="4.6" height="4.0" fill="#8a7c5c" opacity="0.80" />
<rect x="748.6" y="820.4" width="4.6" height="4.0" fill="#f0c8b8" />
<rect x="748.6" y="823.6" width="4.6" height="4.4" fill="#3c3a36" />
<rect x="748.6" y="828.0" width="4.6" height="9.0" fill="#b8a880" />
<rect x="748.6" y="833.0" width="4.6" height="4.0" fill="#8a7c5c" opacity="0.80" />
<rect x="713.0" y="751.6" width="9.0" height="5.6" fill="#6a6a9a" rx="0.6" opacity="0.90" />
<rect x="712.0" y="750.4" width="11.0" height="8.0" fill="none" stroke="#f0a08c" stroke-width="0.7"/>
</g>
<g class="sans" fill="#fbe0d6" font-size="6.6" filter="url(#soft)">
<text x="696.0" y="662.8" textLength="27.5" lengthAdjust="spacingAndGlyphs">X-MOTOR</text>
<text x="730.0" y="662.8" textLength="27.5" lengthAdjust="spacingAndGlyphs">Y-MOTOR</text>
<text x="765.0" y="662.8" textLength="32.0" lengthAdjust="spacingAndGlyphs">Z-MOTOR1</text>
<text x="800.0" y="662.8" textLength="32.0" lengthAdjust="spacingAndGlyphs">Z-MOTOR2</text>
<text x="836.6" y="662.8" textLength="27.5" lengthAdjust="spacingAndGlyphs">E-MOTOR</text>
<text x="655.6" y="659.6" font-size="5.6" textLength="11" lengthAdjust="spacingAndGlyphs">FAN</text>
<text x="655.6" y="674" font-size="5.6" textLength="11" lengthAdjust="spacingAndGlyphs">FAN</text>
<text x="661.6" y="648.6" font-size="9" font-weight="bold">+</text>
<text x="661.6" y="666.4" font-size="9" font-weight="bold">+</text>
<text x="661" y="829.6" font-size="11" font-weight="bold">+</text>
<text transform="translate(667.4 820) rotate(-90)" font-size="6.8" textLength="26" lengthAdjust="spacingAndGlyphs">POWER</text>
<text transform="translate(667.6 776) rotate(-90)" font-size="5">DC</text>
<text transform="translate(880.6 704) rotate(-90)" font-size="7" textLength="39" lengthAdjust="spacingAndGlyphs">ANET V1.0</text>
<text transform="translate(889.6 716) rotate(-90)" font-size="5" font-weight="bold" textLength="60" lengthAdjust="spacingAndGlyphs" fill="#f6b8a4">www.anet3d.com</text>
<text x="755.4" y="849.4" font-size="7.6" textLength="32.4" lengthAdjust="spacingAndGlyphs">USB BLE</text>
<text x="872.4" y="857" font-size="7.4">J3</text>
<text x="872.6" y="869" font-size="7.4" textLength="13" lengthAdjust="spacingAndGlyphs">LCD</text>
<text x="722.6" y="846.6" font-size="4.4" fill="#f8c8b8" textLength="30" lengthAdjust="spacingAndGlyphs">X Y Z T B</text>
</g>
</g>
</svg>
</body>
</html>
